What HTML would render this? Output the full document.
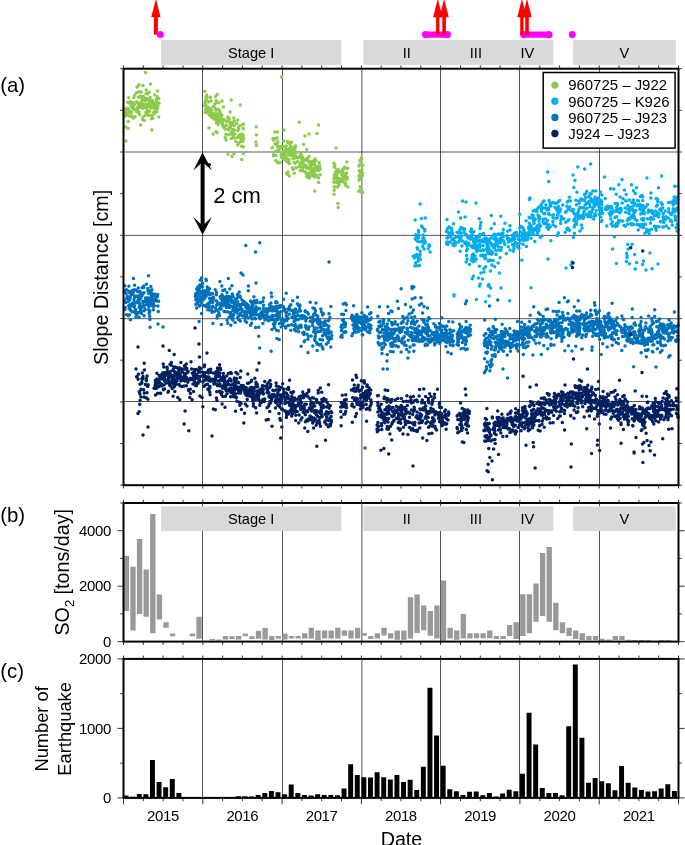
<!DOCTYPE html>
<html><head><meta charset="utf-8"><title>Figure</title>
<style>html,body{margin:0;padding:0;background:#fff}body{width:685px;height:845px;overflow:hidden;font-family:"Liberation Sans",sans-serif}svg{display:block;will-change:transform}text{font-family:"Liberation Sans",sans-serif;fill:#000}</style>
</head><body>
<svg width="685" height="845" viewBox="0 0 685 845">
<rect width="685" height="845" fill="#fff"/>
<path d="M202.5 68.7V485.2M282.5 68.7V485.2M361.9 68.7V485.2M440.5 68.7V485.2M519.5 68.7V485.2M599.5 68.7V485.2" stroke="#0c0c0c" stroke-width="0.7" fill="none"/>
<path d="M123.5 152H678.5M123.5 235.4H678.5M123.5 318.7H678.5M123.5 401.5H678.5" stroke="#0c0c0c" stroke-width="0.7" fill="none"/>
<path d="M128.7 97.7h.01M138.5 106.7h.01M141 105h.01M154.3 107.5h.01M146.9 106.9h.01M128 109.2h.01M142.7 108.3h.01M134.7 94.9h.01M139.8 103h.01M141.6 96.4h.01M151.4 118.8h.01M126.3 114.8h.01M149.5 102.8h.01M130.9 104.8h.01M138.9 111.9h.01M143.5 98.3h.01M140.1 96.2h.01M157.5 104.1h.01M128.2 121.5h.01M156.4 99.2h.01M128.5 110.9h.01M148.6 105.4h.01M154.7 94.8h.01M151.9 130h.01M156.7 112h.01M143.2 100.3h.01M149.4 105.6h.01M147.5 99.6h.01M144.5 104.2h.01M124.8 108.9h.01M140.7 125h.01M149 106h.01M139.2 91.8h.01M136.3 109.7h.01M132.8 116.7h.01M155.4 103.1h.01M146.5 105.7h.01M145.2 107.4h.01M138.9 104.7h.01M130.8 103.5h.01M155.1 103.8h.01M149.5 111.4h.01M129.4 115.9h.01M156 104.2h.01M147.7 105.5h.01M141.1 91.9h.01M136.4 111.4h.01M133.1 109.1h.01M143.3 96.2h.01M139.6 107.6h.01M149.7 101.2h.01M133.2 105.4h.01M158.8 98.4h.01M135.8 110.3h.01M159 103.1h.01M124.8 113.4h.01M147.4 93.9h.01M141.4 102.4h.01M145.3 115.6h.01M149.2 92.2h.01M156.4 100.3h.01M133.4 109h.01M125.6 109.9h.01M156.3 102.2h.01M153.7 112.4h.01M152.9 107.9h.01M130.7 102.3h.01M131.5 107.1h.01M147.2 110.4h.01M142.1 100.1h.01M148.8 99.5h.01M127.9 102.3h.01M153.8 104.4h.01M156.9 99.5h.01M128 128.4h.01M138.8 104.7h.01M137.7 107h.01M130.5 101.6h.01M150.4 106h.01M152.8 118.2h.01M136.4 101.8h.01M138.2 97.3h.01M127.5 113.6h.01M142.7 96.5h.01M131.3 111.9h.01M152.2 100.4h.01M125.6 113h.01M137.5 109.4h.01M146.1 93.6h.01M154.3 112.8h.01M157.4 108.2h.01M125.7 114.9h.01M141.2 96.9h.01M146.6 113.1h.01M129.1 110.3h.01M143.7 105.3h.01M126 108.8h.01M157.3 96.8h.01M153.8 105.5h.01M136.6 92.5h.01M139.8 103.9h.01M151.7 115.5h.01M133.2 107.7h.01M144.2 120.5h.01M157.8 105.7h.01M124.1 114.1h.01M137 108.3h.01M133.4 118.1h.01M157.3 96.7h.01M150.8 108.1h.01M139 113.7h.01M148.7 115.3h.01M139.5 114.7h.01M146.2 90h.01M156.2 109.8h.01M139.1 84.7h.01M150.7 104.5h.01M145.9 112.2h.01M151.1 104.9h.01M141.7 102.8h.01M157.5 91h.01M131.5 113.1h.01M150.1 97.6h.01M146.2 98.3h.01M143 116.9h.01M130.6 102.5h.01M146.8 108.2h.01M133.9 97.8h.01M130.9 112.5h.01M146.7 100.1h.01M154.3 111.8h.01M132.9 102.4h.01M147.3 104.3h.01M128.8 115.4h.01M131.2 116.6h.01M155.8 105.6h.01M157.5 104.7h.01M150.2 105.4h.01M134.3 104.4h.01M154.2 114.1h.01M137.6 103.3h.01M158.7 116.9h.01M125.5 115.8h.01M150.8 101.9h.01M130.1 103.3h.01M142.6 106.5h.01M127.9 108.6h.01M145.4 100.8h.01M142.5 119.4h.01M148.9 105.4h.01M153.7 103h.01M125.3 115.9h.01M135.1 116.7h.01M139.3 105.2h.01M149.8 102.4h.01M145.5 72.4h.01M126 141h.01M125.5 127h.01M150.5 84h.01M143 85.5h.01M137 87h.01M205.3 102.9h.01M216.9 118.7h.01M216.2 100.4h.01M242.3 140.9h.01M223 120.2h.01M225.2 129.3h.01M238.4 127.2h.01M241.7 146.2h.01M216.5 122.7h.01M208.1 107.3h.01M213.5 114.2h.01M211.5 112.8h.01M216.9 116.3h.01M218.1 124.6h.01M221.1 118h.01M237.4 137.4h.01M218.8 116h.01M222.2 119.3h.01M219.3 118.1h.01M216.9 101.9h.01M240.9 138.6h.01M206.8 108h.01M229.2 127.7h.01M218.4 123h.01M207.9 108.3h.01M232.7 124.2h.01M228.6 130h.01M242.7 141.4h.01M210 97.2h.01M210.5 97.5h.01M210.1 108.6h.01M221 118.8h.01M209.7 110.4h.01M205.7 101.3h.01M243.2 135.4h.01M225.9 134.2h.01M231.2 100h.01M226.4 125.3h.01M218.7 113.7h.01M220.6 113.8h.01M231.4 132.6h.01M230.1 112h.01M238.4 143h.01M211.6 116h.01M205.6 111.2h.01M224 119.4h.01M216.5 114.8h.01M224.5 126.6h.01M240.9 136.3h.01M206.6 97.6h.01M241.3 137.2h.01M233.8 118h.01M205.8 100.3h.01M219.7 111.1h.01M222.9 125.9h.01M205.2 102.6h.01M236.5 123.5h.01M218.5 122.5h.01M223.8 126.6h.01M241 139.2h.01M210.1 115.3h.01M206 105.2h.01M223.9 127.4h.01M231.4 125.2h.01M211.7 117.6h.01M239.1 143h.01M230.6 126.4h.01M243.3 147h.01M227.9 117h.01M209.3 114.1h.01M215.9 131.8h.01M209.3 114.9h.01M235.8 141.5h.01M214.6 116.9h.01M243.4 124.3h.01M239.3 135.1h.01M241.9 133.9h.01M209.7 110.4h.01M243.6 138.6h.01M205.2 112.5h.01M206.8 111.3h.01M205.9 97.1h.01M204.7 105.7h.01M205.3 104.1h.01M220.8 121.7h.01M218.5 113.3h.01M217.1 94.6h.01M237.6 144.9h.01M211 109.9h.01M234.3 138.1h.01M222.3 124.3h.01M216.5 120.7h.01M213.7 114.5h.01M208.3 108.8h.01M238.7 129.3h.01M238.2 136.8h.01M231.4 138.4h.01M233.1 136.8h.01M207.7 109h.01M215.5 113.9h.01M204.8 91.3h.01M217.8 119.9h.01M206.4 97.9h.01M231.8 124h.01M232.4 133.4h.01M243.2 128.5h.01M222.2 123.9h.01M229 122h.01M207.3 100.7h.01M206.9 112.2h.01M217.1 132.5h.01M216 109.9h.01M237.8 120.1h.01M215 103.9h.01M211.2 101.1h.01M231.1 125.5h.01M217.7 116.2h.01M214 118.9h.01M243.4 153.4h.01M216.3 118.4h.01M232.3 132.5h.01M241.7 159.4h.01M215.2 112.9h.01M222.8 124.7h.01M229 121.5h.01M233.5 134.8h.01M213.4 115.4h.01M228 117.9h.01M219.2 114.7h.01M218.8 102.7h.01M234.9 134h.01M240.9 141.3h.01M230.5 124.6h.01M229.2 118.8h.01M222.5 123.4h.01M208.5 112.9h.01M208.7 102h.01M234.5 129.9h.01M234.3 120.9h.01M242.4 124.7h.01M209.7 109.4h.01M228.9 134.8h.01M211.8 110.6h.01M228.5 129h.01M221.9 115.2h.01M206.7 95.3h.01M219.4 121.2h.01M213.1 106.7h.01M209 108h.01M243.3 139.9h.01M225.2 137.4h.01M207.8 107.9h.01M232.4 134.4h.01M222 122.1h.01M226.3 121.2h.01M226.1 140.1h.01M240.6 136.1h.01M205.5 109.5h.01M223.4 106.9h.01M232.3 129.6h.01M214.8 107.8h.01M215.5 96.4h.01M233.9 153.5h.01M219.2 119.6h.01M237.9 130.5h.01M218.2 109.2h.01M232.1 122.4h.01M211.8 115.8h.01M234.2 125.7h.01M239.3 125.9h.01M256.2 127h.01M256.3 135h.01M256 142h.01M256.4 145.5h.01M240.3 105h.01M222 101h.01M213 134h.01M209 128h.01M228 154h.01M232 156.5h.01M317.3 166.8h.01M314.4 177h.01M287.2 149h.01M296.3 168.1h.01M291.4 142.2h.01M279.8 146.5h.01M275.6 160.6h.01M302.8 161.8h.01M314.4 175.8h.01M283.1 151.2h.01M292.4 149.3h.01M316.8 169.9h.01M281.5 157.2h.01M287.9 141.9h.01M290.6 155.4h.01M304.9 160.5h.01M277.2 138.1h.01M294.2 153.7h.01M275.8 151.3h.01M299.5 166.8h.01M312.1 175.2h.01M310.4 166.4h.01M319.8 166.1h.01M275.5 138.2h.01M287.5 174.3h.01M314.4 173.4h.01M281.2 154.4h.01M302.4 169h.01M284.9 156.8h.01M287.6 142.2h.01M294.2 158.3h.01M293.6 148.2h.01M286.6 173.5h.01M277.6 131.9h.01M312.5 168.4h.01M310.6 172.2h.01M306.6 176.7h.01M300.1 155.8h.01M277.4 162.1h.01M284.2 146.5h.01M305.5 171.9h.01M281.7 154.8h.01M289.6 144h.01M283.8 141.1h.01M309.1 156.5h.01M309.1 167.3h.01M318.5 170.5h.01M286.8 149.7h.01M302.7 166.9h.01M297.7 161.5h.01M289.9 148h.01M293.6 156.7h.01M309.5 167.1h.01M300.3 163.3h.01M286.7 150.6h.01M273.5 139.9h.01M286.5 161.3h.01M278.9 150.8h.01M316.6 168.9h.01M293.1 149.7h.01M315.8 160.8h.01M283.5 158.7h.01M288.9 163.8h.01M289.1 162.7h.01M311.6 162.1h.01M320.2 174.8h.01M315.1 158.9h.01M288.8 151.6h.01M310.1 176.4h.01M306.1 166.1h.01M302 162.9h.01M310.8 163.2h.01M286.2 145.9h.01M278.2 163h.01M314.6 168.6h.01M300.2 163.9h.01M293.1 169.6h.01M284.8 151.3h.01M306.9 159.5h.01M272.9 138.5h.01M312.9 171.8h.01M303.7 144.4h.01M277.7 141.7h.01M281.5 146.5h.01M277.2 143.8h.01M281.2 155.6h.01M276.2 144.5h.01M302.3 156.9h.01M309.3 167.9h.01M314.7 191.1h.01M281.9 154.1h.01M286.5 150.2h.01M319.2 162.8h.01M314.9 165.2h.01M296.6 152.4h.01M274.9 143.7h.01M290.9 146.5h.01M292.1 154.6h.01M292.4 167.8h.01M313.1 164.5h.01M296.1 157.6h.01M295.5 155.9h.01M311.6 172h.01M302 160.1h.01M310.5 164.8h.01M308.8 161.7h.01M284.7 154.1h.01M294.4 152.1h.01M298.4 157.5h.01M313.1 171.4h.01M306.8 159h.01M308.4 175.1h.01M308.3 160.8h.01M288.6 151.8h.01M290.7 149.4h.01M314.5 170.2h.01M272 148.1h.01M306.1 173.5h.01M309 169h.01M309.1 178h.01M314.6 173.9h.01M300.2 170.4h.01M288.2 154.7h.01M278.2 150.8h.01M294.3 173.2h.01M306.7 149.4h.01M299.7 165.3h.01M286 149.1h.01M294.2 162.2h.01M309.8 163.6h.01M293.3 149.4h.01M302.7 171h.01M293.3 158.6h.01M280 148.2h.01M295.3 163.4h.01M306 167.8h.01M300.7 152.4h.01M312.5 173h.01M305.2 165.1h.01M295.2 146h.01M320.2 169.1h.01M289.6 163.5h.01M307.1 158.5h.01M286.9 158.1h.01M273.5 154.6h.01M273.6 155.8h.01M312.2 170.2h.01M289.7 154.2h.01M318.7 182.4h.01M313.4 170.5h.01M289.4 175.9h.01M308.2 173.5h.01M314.3 170.5h.01M292.5 167.8h.01M301.2 153.7h.01M301.8 158.4h.01M318.8 166.2h.01M273.5 138.9h.01M316.7 175.4h.01M284.7 159.8h.01M282.1 154.8h.01M286.6 151h.01M312.4 170.6h.01M311.9 168.4h.01M292.9 158.3h.01M310.7 162.1h.01M318.4 178.1h.01M314.9 175.5h.01M285.3 150.1h.01M274.8 131.9h.01M277.5 147.1h.01M289.2 159.8h.01M303.7 159.2h.01M313.4 169.1h.01M315.1 168.3h.01M294 153h.01M290.8 149.9h.01M287.5 141.4h.01M275.9 155.6h.01M296.3 167.4h.01M314.1 163.5h.01M303.5 164.5h.01M305.3 171.8h.01M310.6 165.8h.01M295.6 146h.01M313.1 160.9h.01M295 149.1h.01M272.5 147.2h.01M280.2 162.6h.01M315.4 176.3h.01M277.3 151.2h.01M280.6 147.3h.01M291.5 153.5h.01M274.7 139h.01M302 161.1h.01M299.2 122.3h.01M318.6 125h.01M317 133.5h.01M281.6 77h.01M305 136h.01M309 134h.01M284 130h.01M288 172h.01M334.5 176.3h.01M346.8 179.6h.01M338.9 185.4h.01M339.8 171.6h.01M334.1 194.3h.01M335 182h.01M345.4 184.9h.01M347.2 177.6h.01M345.6 183.2h.01M339.1 183.5h.01M342.6 181.4h.01M347.4 168.4h.01M345.4 175.3h.01M338.1 169.5h.01M334.2 186.7h.01M334.8 164.6h.01M337.1 177.9h.01M347.3 177.6h.01M339.6 178.6h.01M336.8 170h.01M341.8 170.9h.01M336.4 172.1h.01M344.6 173.9h.01M336.9 182.4h.01M334.5 174.2h.01M346.6 173h.01M342.5 175h.01M334.5 187.1h.01M340.5 181.4h.01M346.9 161.9h.01M342.6 171.4h.01M335.6 177h.01M337.9 180.7h.01M335.6 172h.01M342.7 168.8h.01M333.8 182.2h.01M343.2 176.4h.01M343.7 181.9h.01M344.8 177.9h.01M337.6 186.9h.01M334.1 166.7h.01M341.7 172.8h.01M347.8 187h.01M342 175h.01M337.7 170.2h.01M347.9 168.5h.01M344.7 167.1h.01M342.4 172.2h.01M333.8 163.2h.01M336.3 178.3h.01M334.5 175.9h.01M338.3 179.5h.01M334.8 167.2h.01M344 169h.01M344.6 177.8h.01M343.3 176.1h.01M336.6 175h.01M343.8 178.7h.01M337.6 177.9h.01M334.2 190.2h.01M342.7 175.4h.01M338 172.8h.01M336.3 171.8h.01M333.9 178.7h.01M343.9 175.1h.01M343.6 182.1h.01M341.7 179.6h.01M341.9 179.3h.01M338 203.5h.01M338.2 207.5h.01M336 148h.01M358.9 191.3h.01M361.3 157.7h.01M362.5 173.2h.01M362 170h.01M361.4 192.6h.01M359.4 165.3h.01M358.9 166h.01M360.2 174.8h.01M359 180.2h.01M359.7 160.4h.01M360.1 176.4h.01M360.1 186.7h.01M362.8 165.4h.01M360.1 171.9h.01M359.1 175.8h.01M361.4 159h.01M362.3 175.8h.01M360.4 164.1h.01M362.6 192.4h.01M360 190.2h.01M359.6 178.3h.01M359.3 170.7h.01" fill="none" stroke="#8ccb4c" stroke-width="3.50" stroke-linecap="round"/>
<path d="M415.6 239.1h.01M424.8 230.9h.01M417 239.9h.01M418 241.5h.01M417.2 247.8h.01M422.9 242h.01M418.5 238h.01M422.8 238.3h.01M418.4 230.4h.01M424 241.9h.01M421 241.7h.01M415.8 234.7h.01M416.1 237.4h.01M425.4 242h.01M418.7 235.2h.01M419.8 255.8h.01M416.9 236.4h.01M425.2 242.7h.01M417.6 248.9h.01M422.4 227.4h.01M423.3 240h.01M417.1 240.8h.01M422.7 246.3h.01M415.3 238.9h.01M424 249h.01M424.5 240.4h.01M424 243.4h.01M423 234.9h.01M424.6 242h.01M423.9 237.9h.01M420.3 259.4h.01M413.4 256.2h.01M414.4 258h.01M420.1 251.2h.01M418.3 261h.01M417.1 265.8h.01M418.5 258.7h.01M415.8 262.8h.01M420.1 254.6h.01M415.8 265.4h.01M418.2 256.6h.01M417.1 256.7h.01M420.1 259.3h.01M416.8 254.6h.01M414.5 255.7h.01M428.8 246.1h.01M429.3 245.5h.01M430.2 252h.01M429 244.7h.01M428.2 248.7h.01M429.7 245.9h.01M420.2 204h.01M415.2 220h.01M421.5 218.5h.01M425.3 218h.01M421.7 226h.01M424.6 229.5h.01M418.5 232h.01M414.8 266h.01M419.5 265.5h.01M452.1 239.5h.01M453.8 245.8h.01M471.3 246h.01M453.5 244.1h.01M507.5 239.2h.01M467.4 249.1h.01M519.7 214.2h.01M514.1 244.6h.01M451.5 231.1h.01M519.1 248.3h.01M516.8 232.8h.01M514.2 236.6h.01M493 235.2h.01M501.5 247.5h.01M509.8 239.5h.01M480 228.4h.01M488.8 247h.01M483.1 249.8h.01M507.6 237.7h.01M488.8 247.9h.01M480.4 240.2h.01M501.5 234.2h.01M478.6 236.4h.01M510.1 229.9h.01M461.9 245.9h.01M461.6 235.7h.01M487.1 244.9h.01M447 237.9h.01M500.8 216.3h.01M473.4 241.2h.01M501.6 240.8h.01M476.5 249.4h.01M459.1 240.8h.01M514.1 239.6h.01M483.4 250.5h.01M461 240.3h.01M470.5 236h.01M447.9 244.4h.01M472.5 233.6h.01M479.3 236.7h.01M500 234.4h.01M491.1 238.1h.01M453.5 238.7h.01M451.8 228.6h.01M516.3 232.6h.01M467 245.9h.01M474.3 242.6h.01M514.1 239.1h.01M502.9 233.1h.01M506.4 253.5h.01M495.7 237.2h.01M516.5 243.2h.01M487.7 243.5h.01M515.2 236.4h.01M496.1 254.5h.01M458.8 232.8h.01M455.3 244.9h.01M468.3 243.9h.01M507.7 231.2h.01M477 247.7h.01M479.9 247.2h.01M500.3 238.3h.01M479.2 218.8h.01M498.3 240.6h.01M476.7 250.9h.01M512.2 235.2h.01M480.4 225.6h.01M455.3 243.5h.01M446.8 241.9h.01M458.5 236.8h.01M502.9 240.4h.01M502.3 240.3h.01M452.8 244.3h.01M455.8 237.4h.01M449 227.1h.01M446.6 243.7h.01M488.4 239.4h.01M514 246.6h.01M488 248.7h.01M483.6 241.5h.01M501.9 233.5h.01M489.2 240.7h.01M495.6 245.5h.01M485.9 242.6h.01M491.1 228.5h.01M449 242.3h.01M461 227.4h.01M504.9 223.3h.01M452.8 234.6h.01M504.8 244.5h.01M483.3 241.4h.01M516.8 235.9h.01M473.2 259.2h.01M515.1 242.4h.01M464 230.3h.01M499.4 240.3h.01M477.5 246.1h.01M498.7 250.1h.01M508.6 238.4h.01M483.1 256.2h.01M486.2 238.6h.01M493.6 247.8h.01M460.9 237.1h.01M483.4 240.5h.01M468.7 243.3h.01M450.2 241.9h.01M473.8 231.8h.01M480.8 222.5h.01M495.8 239.5h.01M513.2 251.3h.01M500.9 250.2h.01M467.8 237.8h.01M474.4 246.4h.01M514.6 239.2h.01M460.7 232.8h.01M484.8 238h.01M506.8 235.8h.01M497.3 234.6h.01M447.3 228.7h.01M480.6 234.6h.01M491.4 215.6h.01M487.2 246.3h.01M483.1 245.4h.01M492.1 245.5h.01M472.6 246.7h.01M508.3 242.1h.01M471.4 228.9h.01M458.6 241.9h.01M494.9 244.6h.01M479.3 241.1h.01M498.7 234h.01M483.6 233.5h.01M512.5 238.2h.01M476.5 241.9h.01M476 237.5h.01M512.4 244.8h.01M508.2 246.8h.01M447 219.6h.01M449.8 227.4h.01M514.9 244h.01M487.4 250h.01M513.9 248.7h.01M514.3 233.3h.01M446.5 231.4h.01M496.1 241.2h.01M488.3 243.6h.01M511.8 240.1h.01M519.2 235.7h.01M478.2 250.3h.01M472.8 247.4h.01M503.3 229.4h.01M460.1 251.3h.01M463.9 232.6h.01M467.8 245.2h.01M485.2 240h.01M500 257.7h.01M470.5 231.6h.01M454.7 241.5h.01M479.9 245.7h.01M450 233.7h.01M486.1 238.1h.01M500.2 242.8h.01M510 250h.01M518 244.1h.01M491.8 243.9h.01M489.9 241.9h.01M453.5 223.7h.01M494.8 248.1h.01M508.4 241.9h.01M503.2 236.8h.01M490.5 252.6h.01M466.8 249.8h.01M509.9 225.8h.01M447.8 237.8h.01M481.5 241.8h.01M474 244.7h.01M464.6 229h.01M447.6 228.4h.01M450.3 236.8h.01M473.4 238.7h.01M458.7 236.2h.01M483.1 239.8h.01M462.5 241h.01M455.8 242.7h.01M487.6 242.1h.01M465.3 243.5h.01M466 241.8h.01M498.6 246.7h.01M485.5 254.9h.01M452.5 233h.01M477 238.4h.01M511.2 241.1h.01M517.5 246.9h.01M466 234.2h.01M500.5 239.1h.01M496.2 242.4h.01M476.4 240.2h.01M518.4 239.2h.01M521 232.1h.01M504.4 243.5h.01M494.2 238.9h.01M494.8 234.3h.01M447.2 230.9h.01M480.7 250.7h.01M459.8 229.8h.01M470.2 239.2h.01M448.6 233.1h.01M479.8 234.4h.01M502.4 235.8h.01M489.3 249.9h.01M490.2 259.9h.01M462.5 228.3h.01M496.7 238.9h.01M464.8 243.2h.01M487.6 251.8h.01M488.1 244.4h.01M468.8 244.8h.01M457 232.2h.01M491.8 251.4h.01M452.6 234.7h.01M475.3 239.8h.01M519.7 228h.01M503.6 240.9h.01M475.3 245h.01M471.4 236.8h.01M498 242.9h.01M500.1 239.2h.01M519.9 243.3h.01M460.6 218h.01M472.3 255.1h.01M488.3 242.9h.01M517.4 235.3h.01M494.4 223.8h.01M460.3 238.6h.01M466.8 235.4h.01M480.9 272.9h.01M485.8 258.6h.01M489.2 286.3h.01M476.3 299.4h.01M485.2 258.7h.01M471.9 257.8h.01M480.8 255.5h.01M484 272h.01M499.4 273h.01M467.1 259h.01M491.9 265.1h.01M482.7 255h.01M492.5 252.9h.01M491.4 254.3h.01M490.4 271.1h.01M479.5 286.1h.01M473.4 257.9h.01M493.1 260.5h.01M473.1 261.7h.01M466.6 255.5h.01M473.3 276.2h.01M474.9 255.7h.01M475.1 260.7h.01M494.7 266.7h.01M478.4 277.9h.01M471.3 260.2h.01M498.1 263.1h.01M485.6 266.7h.01M472.1 278.7h.01M490.8 260.3h.01M466.5 250.7h.01M495.9 250.4h.01M488.5 253.5h.01M483.9 268.4h.01M474.6 247.7h.01M476.3 258.9h.01M466.1 261.9h.01M496 254.4h.01M484.8 258.1h.01M480.2 284.1h.01M482.5 278.9h.01M476.6 251.5h.01M486.4 249.2h.01M479.4 244.4h.01M473.3 254.1h.01M488.3 261.1h.01M485.6 301.8h.01M469.5 264.4h.01M497.1 243.6h.01M488.8 284.6h.01M479.5 266.2h.01M471.9 246.9h.01M462.5 201h.01M466 202h.01M476 203h.01M489 296h.01M454 296h.01M458.5 212h.01M465 217h.01M557.1 218.1h.01M566.8 206.2h.01M533.2 211h.01M547.4 220.4h.01M540.7 226.1h.01M587 208.2h.01M575.9 216.8h.01M549 200.5h.01M548.4 229.3h.01M597.1 203.4h.01M557.1 210.2h.01M529.3 223.3h.01M595.4 215.8h.01M584.6 194.6h.01M583.3 217.4h.01M581.3 217.3h.01M587 208.4h.01M559.7 200.5h.01M544.1 222.7h.01M549.4 214.7h.01M531.1 238.2h.01M536.1 228h.01M538 215.3h.01M561.2 216.2h.01M570.5 200.9h.01M539 230.5h.01M555.9 203.5h.01M593.1 208.1h.01M529.4 199.6h.01M566.5 211.2h.01M529.1 217.6h.01M590.8 217.1h.01M526.1 220.8h.01M529.4 234h.01M579 209.5h.01M550.9 240.8h.01M566.9 229h.01M569.4 230.3h.01M590.4 212.3h.01M592.2 201.7h.01M583 199.7h.01M523.9 229.8h.01M541.4 209.1h.01M573.5 209.7h.01M585.7 197.6h.01M574.4 218.9h.01M537.1 225.9h.01M575.9 200.2h.01M542.8 208h.01M584 211.6h.01M550.7 204.6h.01M567.7 227.9h.01M558 208.7h.01M568.9 219.8h.01M594.7 200.3h.01M588.9 196.5h.01M544.1 223.7h.01M543 222.1h.01M539.7 217h.01M591.5 199.4h.01M595 214h.01M539.5 218.5h.01M533.1 215.6h.01M522.6 234.8h.01M523.2 238h.01M589.5 212.2h.01M579.2 203.3h.01M574.2 227.1h.01M548.5 209.8h.01M590.6 215.1h.01M543.6 213.6h.01M594.1 203.6h.01M536.5 228.4h.01M565.5 212.2h.01M594.6 206.2h.01M567.5 229.5h.01M573 211.6h.01M525.1 232.8h.01M560.8 220.3h.01M594.2 216.1h.01M538.7 218.2h.01M528 237.2h.01M532.9 218.3h.01M596.2 198.4h.01M547.6 172h.01M553.6 214.7h.01M590 193.7h.01M532 214.9h.01M586.7 203.1h.01M565.7 212h.01M571.1 210.4h.01M523.2 244.3h.01M576.3 221.4h.01M598.2 198.1h.01M525.7 236.5h.01M587.9 216.8h.01M539 221.3h.01M567.3 201.9h.01M583.2 207.7h.01M599 214.2h.01M546.9 227.3h.01M524.6 239h.01M534.7 230.1h.01M575 180.5h.01M545.7 208.2h.01M599 203.7h.01M590.2 197.9h.01M578.7 201h.01M528.9 226.5h.01M537.4 233.4h.01M596.9 204h.01M598.9 202.4h.01M594.5 203.2h.01M558.3 233.1h.01M526.4 246.5h.01M531.7 227.9h.01M576.6 214h.01M582.1 228.3h.01M594.5 203.8h.01M576.9 192.3h.01M565.2 232.2h.01M558.3 206.6h.01M581.4 216.1h.01M586 193.5h.01M583.2 218.4h.01M558 213.5h.01M573.8 220.5h.01M540.2 237.4h.01M533.7 234.4h.01M580.4 218.1h.01M545.8 205h.01M534.2 223.2h.01M545.9 223.7h.01M548.6 213.6h.01M561.7 218.3h.01M531.2 225.4h.01M544.7 213.4h.01M525.1 239.9h.01M555.6 226.4h.01M556.3 208.9h.01M578.7 215.2h.01M568.5 200.9h.01M584 216.7h.01M590.6 163.9h.01M591.1 194.1h.01M544 201h.01M546.2 223h.01M593.7 218.9h.01M552.8 215.1h.01M534.8 210.3h.01M586.7 191.3h.01M521.8 260.2h.01M541 205.4h.01M529.8 218.1h.01M587.4 215h.01M549.2 226h.01M572.7 209.4h.01M527.5 239.7h.01M578.2 218.8h.01M533.3 220.5h.01M533.2 231.4h.01M588.7 201.4h.01M521.5 236.2h.01M528.6 228.3h.01M576.4 204.8h.01M523.2 240.3h.01M559.9 211.8h.01M595.8 190.9h.01M544.8 213.8h.01M525.2 233.8h.01M576.6 224.3h.01M523 227.8h.01M542.1 236.1h.01M560.6 208.9h.01M581.3 207.8h.01M573.9 187.6h.01M548.6 224.8h.01M528.4 232.8h.01M568.3 209h.01M531.6 228.8h.01M582.8 216.3h.01M565.7 222.2h.01M592.8 191h.01M557.2 235.6h.01M581.4 224.9h.01M591.9 212.3h.01M596.9 200.2h.01M541.4 211.2h.01M560.6 223.6h.01M548.4 208.2h.01M524.4 232.5h.01M530 198h.01M553 202.5h.01M579.9 207.2h.01M598.9 206.7h.01M590.1 206.7h.01M542.9 202.1h.01M550.2 227.1h.01M529.1 228.5h.01M599.5 207.1h.01M594 205.8h.01M534.2 218.2h.01M534.8 228.8h.01M586.2 203.8h.01M598.1 201.9h.01M596 202.9h.01M574 213.7h.01M596.2 210.8h.01M575.3 221.5h.01M581.7 200.3h.01M534 223.3h.01M584.5 200.4h.01M599.5 209.7h.01M535.3 219.4h.01M543 219.2h.01M562.8 204.9h.01M589.5 204h.01M586.2 208.9h.01M521 226.3h.01M533.2 220.3h.01M521.3 239.7h.01M586.4 214.2h.01M577.6 215.3h.01M541.1 204.7h.01M596.1 200.7h.01M552.9 221.4h.01M595 197.3h.01M574.8 224.9h.01M546.9 209.9h.01M585.1 205h.01M557.6 215.2h.01M538.7 216h.01M573.3 237.5h.01M578.2 211.9h.01M583.2 214.3h.01M549.9 206.3h.01M533.9 222.2h.01M589.6 216h.01M594.4 205.9h.01M554.8 207.2h.01M533.1 234h.01M577.8 167h.01M538.8 207.2h.01M538.7 228.3h.01M549.9 202.8h.01M534.8 241.4h.01M569.8 206.9h.01M592.6 209.5h.01M545.1 218.7h.01M539.2 224.4h.01M574.4 233.2h.01M526.1 233.9h.01M568 206.8h.01M537.4 231h.01M531.1 287.8h.01M529.5 234.1h.01M554.8 218.2h.01M552.8 217.6h.01M550.9 205.9h.01M588.7 203.6h.01M569.6 197.2h.01M553 224.8h.01M563.8 218.8h.01M557.6 209.1h.01M595 199h.01M567.9 220.8h.01M579.9 230.9h.01M532 232.2h.01M557.8 202.3h.01M581 198.7h.01M554.8 203h.01M525.5 240h.01M536.8 211.8h.01M537.3 209.1h.01M529.7 229.9h.01M662.3 204.5h.01M665.3 219.5h.01M641.6 219.1h.01M611.5 206.6h.01M606.2 209.6h.01M606 207.6h.01M634.3 212.8h.01M671.7 202.3h.01M656.2 215.3h.01M642.6 200.4h.01M640.9 205.8h.01M641 209.9h.01M668.4 218h.01M671.7 214.2h.01M618.9 184.7h.01M624 225.3h.01M671.8 221.8h.01M661.2 210.9h.01M660.9 210.6h.01M643.2 220.2h.01M609.2 206.5h.01M629.6 210.8h.01M674.1 197.1h.01M627.4 220.6h.01M655.7 228.4h.01M666.4 218.1h.01M636.7 224.6h.01M666.3 226h.01M634.3 217.1h.01M643.9 208.8h.01M643.5 227.5h.01M668.8 228.2h.01M671 220.3h.01M678 186.3h.01M651.1 217.6h.01M612.6 226.1h.01M652.1 213.2h.01M601.7 201.3h.01M638.1 224.7h.01M673.2 208.7h.01M632.3 217.4h.01M663.9 222.5h.01M674.3 203.6h.01M634.9 203.8h.01M640.7 224.6h.01M657.8 199.3h.01M650.6 218.4h.01M639.6 205.4h.01M642.6 196.8h.01M606.7 225.9h.01M640 204.4h.01M617.6 204.9h.01M622.7 220.9h.01M633.6 215.8h.01M675.6 220.2h.01M610.3 215.6h.01M611.5 214h.01M640.4 196.6h.01M677.9 229.1h.01M657.2 226.6h.01M620.9 211h.01M617.5 211.6h.01M663 217.1h.01M651.4 229.3h.01M615.1 203.6h.01M626.1 194.4h.01M644.2 211.8h.01M608.8 208h.01M637.1 205.9h.01M637.5 204.9h.01M615.5 225h.01M631.9 202.4h.01M614.4 236.8h.01M650.5 223.2h.01M673.2 200.8h.01M631.9 209.1h.01M620.8 208.3h.01M674.1 200.8h.01M672.3 225.2h.01M631.6 184.7h.01M642.8 205.4h.01M636.6 187.7h.01M663.2 213.7h.01M642.8 227.4h.01M616.4 263.4h.01M627.7 224.2h.01M620.1 197.1h.01M673.2 205h.01M616.6 216.7h.01M642 195.6h.01M621.1 220.8h.01M663.5 226.9h.01M644 224.2h.01M677.4 197h.01M627.9 209.1h.01M616.6 207.6h.01M641.3 213.8h.01M675.9 199.2h.01M645.5 224.2h.01M656.2 198.6h.01M670.6 202.5h.01M665.2 211h.01M675.4 217.3h.01M623.1 198.8h.01M648.9 231.1h.01M638.3 230h.01M615.7 226.5h.01M670.7 202.4h.01M654.2 214.4h.01M610.8 218.9h.01M633.6 224.5h.01M650.9 219.7h.01M677.3 224.2h.01M607.2 206.3h.01M618.4 220.5h.01M651 193h.01M613.9 188.9h.01M650.8 197.9h.01M600.2 199.8h.01M645.8 206.9h.01M661.1 202.7h.01M646.7 229.4h.01M601.9 210.2h.01M676 227.5h.01M663.4 219.6h.01M648.6 210.1h.01M674.6 186.2h.01M649.1 211.2h.01M675.1 211.5h.01M659 214.3h.01M602 220.6h.01M658.5 187.7h.01M670.4 213.6h.01M633.3 206h.01M640.6 213.9h.01M630.8 223.6h.01M631.3 215.9h.01M640.4 226.5h.01M632.2 209.5h.01M629.4 200.1h.01M601.9 195.1h.01M647.4 218.7h.01M657 212.2h.01M677.8 200h.01M649.1 230h.01M656.4 206.2h.01M661.1 221.7h.01M654.3 215.6h.01M619.8 212.7h.01M660.3 221.4h.01M612.4 222.1h.01M656.2 230.3h.01M649.2 234.1h.01M617.1 226h.01M633.7 213.7h.01M601.4 200.4h.01M609.2 213.4h.01M629.8 219.4h.01M600.7 217.1h.01M655.5 211.1h.01M612.8 212.3h.01M625.7 200.9h.01M668.6 208.8h.01M616.2 194.2h.01M647.5 204.4h.01M674.8 198.1h.01M678.2 229.1h.01M634.2 216.6h.01M637 224.8h.01M643.8 225.3h.01M600.4 192h.01M659.8 209.8h.01M631.7 224.7h.01M651.7 210.5h.01M628.9 213.4h.01M658.4 217h.01M660.8 208.7h.01M621.2 209.2h.01M601.2 208h.01M640.5 207.3h.01M610.2 211.8h.01M602.6 213.2h.01M616.1 210.4h.01M617.2 203.3h.01M607.2 209.2h.01M674 211.9h.01M658.3 213.3h.01M630.6 207.2h.01M675.5 197.9h.01M668.7 212h.01M635.8 210.6h.01M642.7 207.1h.01M612.3 208.7h.01M614.9 217.6h.01M633.5 190.8h.01M635.1 219.5h.01M665.9 216.8h.01M657.3 204.9h.01M670.9 214.3h.01M625.1 208h.01M638.4 201.1h.01M644.2 213.8h.01M635.2 193.4h.01M611.6 213.2h.01M614.6 211.6h.01M617.4 224.4h.01M618.5 222.4h.01M649.9 218.6h.01M610.6 188.7h.01M601.4 221.6h.01M626.1 200.8h.01M634.7 203.2h.01M633.3 199.9h.01M629.3 218.2h.01M675.1 216h.01M637.5 200.4h.01M622.2 203.1h.01M601.5 213.2h.01M639.8 209.1h.01M633.3 210.6h.01M652.9 211.9h.01M624.4 190.1h.01M617.9 208.9h.01M659 226.8h.01M611.1 223.9h.01M643.7 218.4h.01M620.7 211.5h.01M654.4 226.3h.01M675.3 218.9h.01M670.4 220.8h.01M643.4 211.8h.01M677.1 230.9h.01M601.9 207.9h.01M632.3 223.7h.01M662.8 227.1h.01M616.5 223.4h.01M653.5 219h.01M677.8 210h.01M646.3 232.1h.01M644.9 233.2h.01M676.2 203.1h.01M657.7 201.5h.01M642.4 224.8h.01M604.5 177.1h.01M675.4 209.2h.01M636.9 220.4h.01M625.3 226.2h.01M609.6 208.1h.01M620.2 208.8h.01M675.5 197.9h.01M634.4 212.1h.01M625.7 212.3h.01M601.7 204.2h.01M674.4 202h.01M677.3 207.9h.01M672.9 211.5h.01M605.8 208.9h.01M605.7 209.6h.01M648 212.6h.01M605.2 198.5h.01M662.7 208.1h.01M601.5 202.8h.01M627.8 205.6h.01M628.2 218.8h.01M668.5 202.6h.01M584.6 169h.01M573 175h.01M548.7 181.6h.01M622 179.6h.01M647 178h.01M661.6 176h.01M571 265h.01M548 259h.01M612.5 249h.01M658 264h.01M646 270h.01M566 268h.01M572 262h.01M634.6 254.5h.01M635.3 269.1h.01M626.6 253.3h.01M627.1 256h.01M632.1 244.3h.01M650 253h.01M636.7 262.4h.01M643.4 261.1h.01M629.3 263.8h.01M642.5 264.6h.01M626.4 261.6h.01M627 257.4h.01M652.1 268.8h.01M628.2 249h.01M627.8 244.4h.01M454 294.7h.01M488.3 286h.01M490.7 288.3h.01M501 288h.01M509.6 300.8h.01" fill="none" stroke="#00aeef" stroke-width="3.50" stroke-linecap="round"/>
<path d="M156 299.4h.01M134.6 285.2h.01M126.5 314.7h.01M158.6 301.2h.01M153.4 306.5h.01M136.6 302.8h.01M124.3 308h.01M133.7 311.8h.01M146 299.5h.01M132.7 304.1h.01M148.5 275.8h.01M134.4 297.4h.01M141.7 293.4h.01M139.4 303.1h.01M154.5 305.8h.01M155.9 297.1h.01M148 291.2h.01M158.3 311.5h.01M136.5 312.2h.01M133.3 292.4h.01M135.9 313.7h.01M150 291.6h.01M133.4 278.6h.01M147.8 301.3h.01M136.6 296h.01M148.8 307h.01M134 300.1h.01M127.4 296.5h.01M148.8 300.2h.01M140.5 309.8h.01M156.6 300.9h.01M158 324.1h.01M139.6 299.4h.01M150.9 298.1h.01M145.4 298.1h.01M126.6 298.5h.01M143.8 305.4h.01M135.6 309.5h.01M138.3 288.1h.01M131.9 311.8h.01M144.2 310.6h.01M149 301.7h.01M125.2 307.4h.01M151.9 289.7h.01M137.9 300.6h.01M142.2 287.8h.01M143.7 287.5h.01M141.5 313.6h.01M130.2 296.7h.01M149.7 292.5h.01M132.2 293.5h.01M155.8 299.2h.01M155.6 300.8h.01M137.6 291.6h.01M143.5 286.3h.01M146.6 304.5h.01M128.3 301.6h.01M128.7 298.6h.01M153.1 302.5h.01M131.1 305.7h.01M148.9 298.5h.01M147.2 297.8h.01M140.7 294.3h.01M142.8 301.5h.01M139.4 306.7h.01M150.9 286.5h.01M131.3 291.3h.01M126.2 293.4h.01M140.4 307.6h.01M139.8 304.4h.01M124.4 301.2h.01M153 296.1h.01M145.2 309.6h.01M129.3 291.4h.01M151.1 300.7h.01M138.8 312.5h.01M129.7 293.1h.01M130.1 298.4h.01M148.7 310.1h.01M151.5 303h.01M150.1 290.7h.01M129.4 314.7h.01M141.2 307.8h.01M130.4 304.8h.01M150.1 304.5h.01M144.1 310.7h.01M134 307.1h.01M157.9 306.1h.01M125.8 302.6h.01M153.4 303.8h.01M132 294.5h.01M147.6 304.7h.01M133.9 303.4h.01M135.4 296.2h.01M148.8 293.6h.01M149.9 311.1h.01M149.9 319.4h.01M139.1 317.2h.01M124.7 309.5h.01M153.3 303.9h.01M140.8 298.3h.01M126.5 289.8h.01M144.1 307h.01M131.6 294.3h.01M124.8 291h.01M149.8 297.9h.01M152.1 301.1h.01M135.2 302.4h.01M139.9 295.6h.01M128.4 315.7h.01M144.1 315.7h.01M143.3 301.5h.01M153.4 309.8h.01M138.7 298.5h.01M149.1 313.6h.01M157.7 294.5h.01M150.3 300.1h.01M145.8 300.3h.01M132.3 303.3h.01M129.1 308.7h.01M152.7 294.9h.01M154.6 294h.01M149.5 312.2h.01M142.9 293.6h.01M134.4 305.8h.01M140.1 291.5h.01M135.6 290h.01M127 289.9h.01M134.2 289.7h.01M128.9 286.3h.01M141.9 306.7h.01M129.7 304.9h.01M134.8 295.9h.01M151.4 290.3h.01M143.1 303h.01M141.2 312.1h.01M130.4 319.7h.01M147.5 298.7h.01M144 292.8h.01M130.1 309.5h.01M138.2 299.5h.01M129.7 300h.01M151.5 305.2h.01M130.2 297.2h.01M139.7 295h.01M139.1 307.3h.01M132.1 290.6h.01M129.6 307.5h.01M130.8 310.6h.01M153.3 299.4h.01M147.4 302.4h.01M129.4 307.5h.01M124.8 285.7h.01M151.3 295h.01M151.7 293.4h.01M136.8 314.6h.01M135.8 316.9h.01M128.7 305.8h.01M157.4 296.6h.01M149.7 316.4h.01M142.1 295.6h.01M146.3 284.2h.01M137.1 296.5h.01M144.5 301.4h.01M147.8 288.5h.01M150.1 327.3h.01M234.6 311.8h.01M200.2 305.4h.01M331.8 335.5h.01M201.7 277.8h.01M230.9 296.9h.01M294.1 317.9h.01M300.4 311h.01M231.9 296.5h.01M236.2 308.3h.01M199.6 306h.01M308.8 326.9h.01M298.5 305.6h.01M222.1 305.7h.01M250.6 300.9h.01M250.8 316.6h.01M226.5 296.4h.01M259.4 317.1h.01M239.9 296h.01M231.9 285.7h.01M236.9 301.9h.01M281.5 320.7h.01M226.2 301.9h.01M310.2 317.6h.01M223.1 303.2h.01M256.3 314.5h.01M279.2 313.4h.01M196.7 289.1h.01M215.2 289.7h.01M315.6 332.9h.01M274.5 310.7h.01M271.7 296.7h.01M303.8 334.6h.01M318.4 324.2h.01M253.2 311.9h.01M295.1 317.9h.01M250.2 308.3h.01M207.4 289.9h.01M261 312.8h.01M242.5 316.1h.01M297.6 312.2h.01M324.2 323.9h.01M201.4 301.3h.01M222.3 296.6h.01M265.7 308.7h.01M202.9 296.8h.01M245.6 305.5h.01M305.1 310.7h.01M208.9 292.2h.01M284.7 321h.01M276.4 306.6h.01M237.2 306h.01M277.7 306.5h.01M313.7 332h.01M216.4 300.8h.01M274.5 307.1h.01M320.3 323.6h.01M265.7 311.7h.01M237.9 317.1h.01M244.6 314.4h.01M229.8 312.8h.01M252.8 303.1h.01M300.2 327h.01M212.9 300.4h.01M232.1 306.6h.01M234.2 303.7h.01M331.2 332.2h.01M280.2 305.5h.01M259.4 309h.01M316.9 328.3h.01M269.2 307.9h.01M294 316h.01M327.7 338.2h.01M199.1 299.4h.01M196.7 298.6h.01M274.9 323.7h.01M237 313h.01M274.9 323.4h.01M276.9 319.2h.01M209 305.6h.01M314.2 330h.01M274.5 327.8h.01M204.3 295h.01M230.8 316.1h.01M221.8 286.1h.01M265.8 318.8h.01M206.1 306.8h.01M233 315.5h.01M285.7 328h.01M271.6 306.7h.01M197.9 287.1h.01M248.4 307.3h.01M250.5 325.2h.01M281.1 327h.01M315.5 335.8h.01M253.7 314.4h.01M254.7 308.9h.01M301.2 327.2h.01M258.8 327.2h.01M233.1 296.8h.01M226.4 307.5h.01M240.4 313.8h.01M232.2 319.1h.01M294.3 310.2h.01M202 301.2h.01M242.2 311.4h.01M206.6 291.3h.01M239.1 315.7h.01M232.3 294h.01M305.8 321h.01M270.7 310.1h.01M321.9 329.4h.01M204.3 296.4h.01M247.3 312.8h.01M214.4 311.5h.01M318.1 331.4h.01M297.7 315.4h.01M238 297.1h.01M244.7 316.2h.01M311.2 335.9h.01M254.8 318.1h.01M247.7 312.6h.01M223.1 296.5h.01M224.7 298.9h.01M319.9 339.5h.01M325.4 320.9h.01M212.8 306.3h.01M260.6 316.2h.01M315 312.9h.01M240.3 321.1h.01M250.5 311.7h.01M278.3 330.7h.01M221 303h.01M231 299.1h.01M230.8 325.3h.01M210.4 302.5h.01M286.4 312.6h.01M297.6 311.9h.01M201.8 298.3h.01M270.3 308.1h.01M300 325.2h.01M263.3 308.6h.01M315.9 319.9h.01M279.7 314.6h.01M276.9 315.9h.01M233.6 314.9h.01M315.3 328.1h.01M322.5 335.7h.01M227.1 320.3h.01M222 294.8h.01M322.3 347h.01M203 295.1h.01M295.1 312.6h.01M207 293.8h.01M331.5 338.4h.01M200.6 292.9h.01M319.4 323.4h.01M279.2 315.4h.01M199.8 285.1h.01M294.2 311.5h.01M314.5 308.4h.01M247.1 305.4h.01M203.9 305.6h.01M199.2 299.2h.01M295.8 330.9h.01M329.5 338.6h.01M265.6 316.7h.01M210.4 301h.01M255.6 309.1h.01M328.1 342.5h.01M276.9 338.6h.01M330.8 346.9h.01M246.5 322.2h.01M277.8 318.5h.01M319.1 320.9h.01M219.5 315.5h.01M312.9 308h.01M295.6 327h.01M326.2 329.9h.01M292.7 300.7h.01M249.9 310.4h.01M235.6 298.9h.01M282.7 325.6h.01M213.7 297.9h.01M278.1 316.7h.01M221.8 305.9h.01M267.5 317h.01M277.5 317.9h.01M240.3 304.6h.01M226.4 296.4h.01M269.6 304.6h.01M287.1 316.9h.01M329 313.8h.01M202.6 293.1h.01M204.6 290.7h.01M196.7 297h.01M251.4 301.8h.01M245.9 307.8h.01M210.1 294.5h.01M224.8 289.8h.01M276.5 330.2h.01M244 301.5h.01M255.6 327.5h.01M288.7 310.1h.01M202.6 282.9h.01M212 310.7h.01M253.9 296.7h.01M283.6 299.3h.01M200.2 280.2h.01M294.5 312.8h.01M241.8 308.9h.01M306.4 328.8h.01M289.5 306.6h.01M328.8 337.1h.01M274.4 321h.01M293.6 311.8h.01M196.7 307.9h.01M218.2 303.2h.01M317.1 350.4h.01M239.2 309.5h.01M202 291.6h.01M225.1 300.2h.01M330.9 306.5h.01M229.4 307.6h.01M264.9 319.9h.01M201.6 313.4h.01M283.5 307h.01M243.1 304.5h.01M240.3 297.3h.01M201 286.8h.01M296.1 319.9h.01M248.1 312.5h.01M237.6 304h.01M230.5 305.9h.01M237.5 294.6h.01M283.1 306.6h.01M221.3 297.5h.01M307.9 339.2h.01M290 309.3h.01M285.6 326.8h.01M236.7 298.4h.01M269.6 310.1h.01M222.5 301.8h.01M274.4 310.3h.01M272.6 316.4h.01M247.4 308.4h.01M273.1 310.7h.01M222.5 299.5h.01M238 310.8h.01M245.1 320.9h.01M277.1 313.4h.01M324.1 329.8h.01M240.5 313.6h.01M328.5 333.6h.01M225.3 311.8h.01M247.4 311.4h.01M265.3 315.6h.01M316.7 342.7h.01M219.9 281.5h.01M258.2 314.7h.01M225.5 298.2h.01M235.1 322.4h.01M237.8 301.7h.01M286.8 320.5h.01M285 309.3h.01M198.3 291.7h.01M299.9 305h.01M327.2 332h.01M200.9 297.5h.01M261.2 315.9h.01M234.3 306.7h.01M229.8 288.9h.01M270.9 302.9h.01M323.4 322.4h.01M326.6 325.1h.01M281.1 305.8h.01M290.8 304.8h.01M294.9 312.8h.01M262.9 301.4h.01M320.8 309h.01M252 307.1h.01M227.8 302h.01M298.3 319.4h.01M227.3 298.7h.01M227.6 305.8h.01M293.9 325.4h.01M280.6 311.8h.01M199.5 295.9h.01M219.5 308.5h.01M197.6 303h.01M316.7 319.9h.01M274.2 309.6h.01M263.1 313.9h.01M279.4 323.6h.01M235.2 302.2h.01M323 349.1h.01M252 303.2h.01M201.7 299.1h.01M246.7 315.5h.01M236.7 303.2h.01M290.7 330.2h.01M298.7 331.7h.01M268.3 310.1h.01M316.7 315.5h.01M308.4 336.3h.01M321.4 311.8h.01M221.3 324.6h.01M277.7 319.5h.01M282 323.1h.01M283.1 323.6h.01M220.3 309.2h.01M284.9 309.8h.01M232.8 318.3h.01M199.9 292.6h.01M225.5 304.6h.01M322.6 339.9h.01M198.3 301.6h.01M304 332.2h.01M259.7 302.4h.01M196.1 304.1h.01M195.4 296.8h.01M291.3 310.2h.01M277.1 310.9h.01M301.1 346.2h.01M202.3 287h.01M322.1 328.7h.01M320.8 344.3h.01M228.6 304.4h.01M262.9 323.6h.01M315.1 337h.01M198.7 291.3h.01M266.7 309.3h.01M293.4 313.9h.01M297.5 297.3h.01M325.1 321.8h.01M211.4 298.6h.01M277.3 308.3h.01M266.6 310.2h.01M270.5 319.8h.01M195.5 294h.01M227.5 311.7h.01M211.9 307.8h.01M317.8 318.1h.01M212.5 293.6h.01M256.1 311.6h.01M284.9 310.9h.01M272 329.4h.01M317.6 344.1h.01M263.5 297.9h.01M249.3 308.7h.01M212.9 323.6h.01M209.6 298.3h.01M274.9 323.2h.01M320.2 321.6h.01M312.9 319.1h.01M226.9 292.6h.01M265.5 311.4h.01M312.5 322.5h.01M277.6 312.8h.01M263.5 305.3h.01M195.8 295.5h.01M308.4 327.9h.01M242.4 311.1h.01M328.1 328.7h.01M298.1 328.5h.01M313.7 314.5h.01M239.8 305.6h.01M238.4 319.5h.01M254.8 311.8h.01M244.7 312.3h.01M258.7 336.3h.01M326.5 332.4h.01M228.9 298.6h.01M305.6 325.4h.01M327.5 337.9h.01M201.1 298.5h.01M237.9 295.5h.01M217.3 315.8h.01M224.9 301.2h.01M246.7 304.3h.01M198.3 292.9h.01M199.4 287.9h.01M299.8 309.7h.01M202.8 291.9h.01M230.1 313.2h.01M231.5 302.3h.01M252.2 319h.01M301.8 318.8h.01M213.1 296.9h.01M312.8 318.4h.01M314.6 339.6h.01M209.5 288.7h.01M210 293.7h.01M277.8 312.2h.01M197 295.8h.01M206 279.3h.01M198.2 287h.01M273.4 324h.01M300.5 316.3h.01M297.5 303.8h.01M229.1 317.3h.01M260.1 318.8h.01M208.8 306.8h.01M199.4 290.7h.01M325.6 335.1h.01M302.7 332.7h.01M199.1 321.4h.01M223.8 303.6h.01M256.7 300.2h.01M196.2 294.8h.01M302.4 315.4h.01M248.3 290.7h.01M228.6 304.9h.01M274.7 320.2h.01M291.9 317.3h.01M248.2 318h.01M270.9 316.9h.01M328.9 332.3h.01M304.2 341.7h.01M206.1 296.2h.01M323.4 313.7h.01M195.8 300.1h.01M295.6 309.2h.01M269.6 307.8h.01M260.5 314.5h.01M299.7 306.2h.01M288.6 325.5h.01M207.8 309.8h.01M279.2 339.6h.01M259.9 314.9h.01M301 325.3h.01M232.3 302h.01M220.1 305.7h.01M197.9 303.4h.01M232.7 300.8h.01M316.2 332.3h.01M267.7 311.3h.01M271.1 351.2h.01M275.3 320.3h.01M265.8 309.2h.01M295.9 316.3h.01M312.8 346.1h.01M272.8 319.4h.01M225.5 302.9h.01M304.4 316.3h.01M257.5 308.4h.01M327.2 337.3h.01M317.2 344.3h.01M248.4 285.9h.01M227.2 302.7h.01M216.5 292.3h.01M210 298.5h.01M281.2 320.3h.01M272.4 315.6h.01M197.5 287.8h.01M271.3 292.9h.01M286.2 316h.01M204 299.1h.01M276.1 301.4h.01M248.2 305.3h.01M267.6 312h.01M328.7 330.2h.01M216.3 294.7h.01M286 320.7h.01M312.6 325.5h.01M223.1 304.9h.01M294.1 321.4h.01M319.8 331.2h.01M246.1 303.2h.01M232.8 309.8h.01M251.8 313.9h.01M324.1 325.5h.01M301.4 317.9h.01M252.9 305.4h.01M212 312.3h.01M242.4 303.7h.01M275.6 302.4h.01M228.3 278.5h.01M245 318.2h.01M208.8 303.1h.01M235.5 310h.01M286.1 312.9h.01M268.5 320.7h.01M248.6 311.2h.01M306 317.6h.01M310.2 321.2h.01M244.8 311.6h.01M295.5 309.1h.01M288.3 308.7h.01M243.5 304.4h.01M329.1 313.7h.01M294.3 329.6h.01M284.3 310.6h.01M231.3 302.1h.01M251.8 309.7h.01M270.1 317h.01M253.7 313.4h.01M319.4 345h.01M197.4 292.5h.01M317.7 316.5h.01M256.5 302.7h.01M265 317.5h.01M323.7 322.5h.01M305.1 317.6h.01M252 305.8h.01M242 300.1h.01M329.2 339.8h.01M198 293.6h.01M209.3 309.9h.01M319.5 320.3h.01M320.5 331.3h.01M206.4 305.8h.01M257.2 308.9h.01M228.4 296.2h.01M289.3 314.3h.01M232.6 295h.01M299.5 309.2h.01M295.3 324.5h.01M240.5 307.1h.01M328.9 320.1h.01M277.1 302.8h.01M308.3 314.1h.01M272 310.9h.01M220.8 298.5h.01M275.5 321.3h.01M314.3 328.2h.01M213.6 298.3h.01M232.8 320h.01M307 334.3h.01M279.6 316.8h.01M255.7 302.9h.01M276.9 314.5h.01M217.1 318h.01M221.1 308.9h.01M220.2 296.7h.01M259.4 308.5h.01M222.4 301.4h.01M329.9 317.5h.01M208.5 294.5h.01M256.1 306.9h.01M196.3 293.4h.01M216.6 305.1h.01M328.7 331.6h.01M288 318.4h.01M201.4 302.6h.01M201.9 285.4h.01M196.1 304.4h.01M239.2 292.1h.01M326.3 344.2h.01M254.2 300.7h.01M262 313.8h.01M217 310.3h.01M307.5 312.6h.01M314.9 340.6h.01M206.3 280.5h.01M218.8 312.7h.01M300 316h.01M309.1 326.8h.01M207.5 289.5h.01M199 288.2h.01M304.6 317.9h.01M313.4 320.9h.01M201.7 299h.01M316 303h.01M313 316.4h.01M274.2 326.8h.01M232.9 310.5h.01M204.8 293.6h.01M255.7 310.3h.01M326.7 324.9h.01M255.5 318.8h.01M305.2 311.8h.01M248.4 308h.01M308.5 329.2h.01M322.6 315.1h.01M199.8 296.6h.01M205.2 296.1h.01M297.5 327h.01M286.2 293.3h.01M251 312.2h.01M212.8 302.3h.01M324 332.7h.01M328.9 326.3h.01M282.8 318.7h.01M207 304.4h.01M274.5 315.7h.01M260.4 302.7h.01M310.2 302.3h.01M229.7 300.3h.01M328.5 320.8h.01M232.9 315h.01M215.5 308.1h.01M207.2 293.9h.01M217.6 302.7h.01M291.6 324.7h.01M227.7 323.2h.01M249.5 309.6h.01M223.7 305.3h.01M228.2 299.3h.01M320.2 327.3h.01M298.6 304.9h.01M267 315.1h.01M237.8 303.7h.01M288.2 325.3h.01M317.3 322.6h.01M207.3 287h.01M306.7 318.2h.01M270.1 308.3h.01M273.6 309h.01M198.6 299.2h.01M263.2 316.6h.01M321 326.1h.01M198.4 294.8h.01M315.4 310.7h.01M236.3 306.9h.01M305.7 327.1h.01M222.9 302.4h.01M231.2 313.7h.01M286.6 319.2h.01M224.1 311.5h.01M251.6 323.3h.01M250.7 314.5h.01M205.4 297h.01M262.5 311.3h.01M279.7 307.5h.01M252.5 314.9h.01M304.7 340.8h.01M222.8 290.5h.01M204.8 297.4h.01M279.6 306.3h.01M230.3 312.6h.01M245.8 245.4h.01M259.7 242.8h.01M255.5 252h.01M329 262h.01M308 352.5h.01M259.6 348h.01M241 273h.01M243 275h.01M256 283h.01M163 327h.01M345.6 332.3h.01M342.1 337.2h.01M346.4 304.7h.01M345 331.8h.01M342.4 320.1h.01M345.4 324.9h.01M343.6 314.5h.01M341.4 330.6h.01M342 335h.01M343.8 321.7h.01M343.3 319.6h.01M341.5 325.2h.01M345.5 322.9h.01M342.1 328.5h.01M341.1 327.1h.01M344.1 332.3h.01M346 331.9h.01M345.3 303.2h.01M343.2 304h.01M343.2 324.7h.01M346 310.6h.01M341.7 314.2h.01M340.8 336.7h.01M345 326.7h.01M371 312.8h.01M364.4 316.6h.01M352.8 320.8h.01M369.7 332.7h.01M355.9 332.3h.01M370.9 328.6h.01M357.3 328.3h.01M353.6 305.7h.01M357.6 331.7h.01M361.9 312.7h.01M355.2 322.6h.01M354.4 330.4h.01M352.9 320.8h.01M365.8 330.1h.01M352.8 333.5h.01M361.1 323.6h.01M362.2 334.5h.01M355.6 327.7h.01M366.1 320.9h.01M357.9 321.3h.01M362.7 335h.01M355.4 327.2h.01M364.4 315.4h.01M354.6 325.3h.01M354.8 322.7h.01M356.8 320.3h.01M364.1 319.3h.01M370 330h.01M356.5 322.6h.01M368.5 325.1h.01M356.3 325.1h.01M371.3 317.9h.01M359.2 327.9h.01M364.9 321.5h.01M357.3 326.2h.01M364.6 325.4h.01M369.7 325.2h.01M360.8 322.2h.01M352.9 324.9h.01M360.2 317.2h.01M362.8 327.3h.01M367.9 332h.01M357.3 320.6h.01M355.8 316.3h.01M363.2 324.9h.01M361.7 317.5h.01M351.9 335.8h.01M367.5 318.8h.01M353.8 317.4h.01M365.9 322.3h.01M370.2 319.8h.01M354.6 325.8h.01M360.6 322.7h.01M354.5 329.5h.01M368.7 327.3h.01M366.8 317.1h.01M353.6 318.3h.01M364.8 328.8h.01M361.3 319.9h.01M356.7 318h.01M362.7 321.8h.01M359.1 330.9h.01M351.8 318.7h.01M356.8 314.5h.01M351.5 317.1h.01M365.3 326.6h.01M365.8 327.9h.01M359.8 317.2h.01M356 320.2h.01M362.6 334.7h.01M358.3 318.7h.01M368.7 320.2h.01M368.6 325.2h.01M356 323.6h.01M361.9 330.3h.01M367.6 306.9h.01M365.1 318.3h.01M359.6 322.5h.01M369.5 314h.01M370.9 312.8h.01M370.9 325.5h.01M352 318.2h.01M366.8 321.3h.01M352.1 315.3h.01M358.2 322.8h.01M353.9 328.4h.01M368.9 324.3h.01M363.7 321.9h.01M367.2 319.9h.01M353.6 318h.01M360 322.5h.01M358.6 317.1h.01M401.2 323.1h.01M414.6 337.7h.01M402.4 338.4h.01M391.6 322.5h.01M394.5 339.5h.01M388.9 335h.01M378.9 326.3h.01M406.1 345.5h.01M387.3 334.4h.01M401.1 352h.01M391.9 329.5h.01M390.9 345.9h.01M403.9 327.3h.01M385.4 326.4h.01M398.4 338.2h.01M384.4 339.6h.01M388.8 320.2h.01M386 337.4h.01M386.4 333.8h.01M414.8 332.5h.01M413.9 351.3h.01M387.3 323.9h.01M383.5 319.4h.01M410.9 337h.01M378.8 337.9h.01M382.3 329.6h.01M401.5 329.5h.01M387.8 336.1h.01M399.8 332.6h.01M388.6 313.5h.01M377.6 329.3h.01M411.5 333.8h.01M379.6 337.2h.01M411.9 312.7h.01M398.7 329.6h.01M407.9 358h.01M413.6 336.2h.01M397.4 301.2h.01M392.4 342.5h.01M410.7 307.1h.01M397.6 335.7h.01M397.7 324.8h.01M390.8 335.9h.01M415.4 322.7h.01M404.2 336.6h.01M382.3 347.4h.01M387.5 340.5h.01M410.6 327.2h.01M379.7 326.4h.01M401.3 323.2h.01M412.2 328h.01M398.4 346.7h.01M412.6 340.6h.01M396.1 338.2h.01M383.4 323.4h.01M392.1 311.4h.01M413.7 339.4h.01M384.5 333.1h.01M404.3 318.4h.01M401.3 328h.01M398.6 340.5h.01M398.5 337.5h.01M391.1 330.5h.01M387.3 368.9h.01M395.1 321.8h.01M410.3 336h.01M381.8 326.1h.01M392.9 345.2h.01M413.7 328.4h.01M398.2 338.9h.01M390.9 311h.01M404.7 342.1h.01M408 331.4h.01M390.6 343.6h.01M405.3 332.4h.01M385.3 344.5h.01M379.3 326.8h.01M378.9 321.9h.01M412.2 327.9h.01M398.9 328h.01M407.8 332.5h.01M397.3 335.9h.01M402.8 316.6h.01M388.7 338.7h.01M409.1 313.9h.01M393.9 333.2h.01M391.4 333.1h.01M402.1 342.9h.01M387.9 329.3h.01M406.7 349.5h.01M380 322.3h.01M413 339.2h.01M409 352.1h.01M395.8 346h.01M383.9 337.1h.01M392 336.6h.01M393.2 338.4h.01M402 330.1h.01M378.4 336h.01M412.5 338.4h.01M406.8 323.7h.01M379.6 345h.01M413.2 323h.01M401.4 331.6h.01M396.3 345.7h.01M395.3 341.2h.01M395.3 328.9h.01M378.8 344.1h.01M389.3 329h.01M386.7 327.3h.01M381.9 349.3h.01M383.6 321.3h.01M409.3 335.6h.01M382 353.4h.01M380.1 321.3h.01M414.6 340.2h.01M404.5 345.1h.01M383.5 347.3h.01M411.4 323.6h.01M413.5 310h.01M377.4 330.2h.01M393.2 344.4h.01M378.1 342.6h.01M402.1 338.9h.01M403 322.2h.01M407.2 316.9h.01M384.5 337.1h.01M401.3 341.2h.01M401.5 341.1h.01M380.9 325.8h.01M388.3 333h.01M415 330.2h.01M411.9 337.9h.01M390.5 351.4h.01M386.4 330.2h.01M396.2 330.2h.01M411.6 336.8h.01M411.4 332.6h.01M389.5 336.5h.01M382.7 336h.01M394.7 323.8h.01M414.7 316.8h.01M387.9 328.5h.01M408.3 340.2h.01M398.1 346.8h.01M413.1 320.4h.01M397.2 330h.01M412.3 340.4h.01M385.8 339.7h.01M410 346.9h.01M379.3 332.3h.01M377.8 316.2h.01M411.2 336.9h.01M411.3 317.3h.01M414.6 324.6h.01M381.7 343.8h.01M407.2 329h.01M393.2 351.7h.01M384.2 329.8h.01M407 333.7h.01M387.3 354.6h.01M387.9 339.9h.01M403 321.3h.01M394.5 331.9h.01M393.5 329.4h.01M392.3 346.5h.01M407.4 328.2h.01M413.2 345.1h.01M383.9 342.7h.01M386.9 331.9h.01M390 338.7h.01M403.4 338h.01M393.3 334h.01M381.1 332.3h.01M385.1 336.6h.01M387.9 327.8h.01M411.8 322h.01M392.2 325h.01M407.9 320.7h.01M414.1 344.9h.01M427.4 339.1h.01M453.2 345.4h.01M449.7 341.9h.01M441.3 334.5h.01M422.2 339.7h.01M433.8 323.8h.01M440 339.2h.01M433.2 334.4h.01M428.1 341h.01M432.2 338.5h.01M452.2 331.2h.01M417.9 338h.01M446.4 340.9h.01M440.3 341.9h.01M436 343.1h.01M425.1 345.4h.01M427.5 334.7h.01M450.2 345h.01M440.4 337.1h.01M425.9 333.3h.01M437.9 338.9h.01M448.7 321.4h.01M420.3 334.4h.01M445.5 341h.01M434.7 343.1h.01M426.8 328.2h.01M445.4 341.8h.01M424.1 320.2h.01M428.5 330.8h.01M434.6 337.3h.01M446.9 336.4h.01M419.5 331.1h.01M442.9 340.2h.01M451.2 335.5h.01M452.8 342.1h.01M444.2 338.6h.01M416.1 337.3h.01M439.8 336.6h.01M438.9 327.6h.01M417.1 321.2h.01M429.8 342.2h.01M427.7 331.9h.01M443.9 335.2h.01M447.3 337.6h.01M417.5 336.6h.01M449.7 333.6h.01M447.2 341.6h.01M443.7 333.5h.01M445.4 337h.01M428.5 327.5h.01M451.9 335.4h.01M453.7 330.8h.01M430.1 330.6h.01M443.6 336.1h.01M444.3 335.3h.01M430 335.9h.01M423.9 322.3h.01M422.3 330.7h.01M430.8 341.8h.01M421.5 334.6h.01M447.6 338.3h.01M452 337.4h.01M418.9 341.4h.01M424.4 338h.01M432.3 332.4h.01M422.1 319.6h.01M439.8 343.6h.01M419 325.9h.01M418.3 333.8h.01M436.2 339.7h.01M441.7 317.8h.01M417.6 340.4h.01M422.7 336.9h.01M453.4 341.1h.01M441.3 340h.01M424.4 330.3h.01M432.1 333.4h.01M447.1 342.6h.01M425.7 324.5h.01M437.8 340.9h.01M447.8 352.3h.01M445.7 332.8h.01M450.1 337.4h.01M418.9 333.1h.01M420.2 340.1h.01M421.2 340.9h.01M427.3 330.3h.01M422.8 327.7h.01M427.7 326.2h.01M452.8 322.1h.01M421.3 339.7h.01M436.2 337h.01M435.6 325.7h.01M427.4 321h.01M440.4 330h.01M445.9 332.5h.01M423.5 339.8h.01M419.2 334.7h.01M448.8 339.4h.01M416.9 331h.01M416.6 340.7h.01M437.8 333.4h.01M435.5 334.9h.01M436.4 332.1h.01M446.4 330.4h.01M439.4 323.6h.01M437.9 338.2h.01M451.7 331.3h.01M418.4 330.6h.01M448.8 333.8h.01M449.9 333.7h.01M452.5 335.3h.01M420.1 340.7h.01M449.8 329.8h.01M427.6 331.9h.01M424.4 339.9h.01M451.2 353.7h.01M438.3 336.2h.01M427.3 324.4h.01M437 331.1h.01M442.4 326.3h.01M422.5 337.8h.01M429.6 318.7h.01M436.9 331.5h.01M427.6 344.9h.01M418.8 334.2h.01M441.7 332.6h.01M445.9 346.5h.01M422.9 329.6h.01M445.2 327.7h.01M450.5 330.5h.01M441.6 330h.01M440.7 325h.01M436.7 328.1h.01M452.9 345.8h.01M438.1 335.1h.01M422.6 313h.01M428.7 317.7h.01M452 340.4h.01M417 335.4h.01M443.8 326.5h.01M434.6 345h.01M422 331.6h.01M416.7 328.2h.01M434.6 345.1h.01M434.5 332.6h.01M427.7 335.6h.01M435.5 326.9h.01M438.8 334.8h.01M439.2 336.2h.01M423.9 331.3h.01M436.4 337.6h.01M446.2 334.8h.01M432.3 340.3h.01M450.6 338.6h.01M422.7 337.7h.01M421 331.2h.01M417.5 333.1h.01M425.5 328.3h.01M441.8 336.6h.01M426.4 329.8h.01M436.9 333.2h.01M417.1 331.8h.01M452.2 336.1h.01M425.8 343.9h.01M441.2 334.2h.01M422.6 341.2h.01M429.4 339.7h.01M425.2 329.4h.01M416.1 338.7h.01M433.8 339.4h.01M420.3 341h.01M446.8 325.9h.01M439.1 340.7h.01M445.1 329.2h.01M464.5 330.8h.01M467.3 348.9h.01M460.5 327.1h.01M465.9 341.9h.01M458.4 345.3h.01M458.6 341.8h.01M459 334.9h.01M458.3 332h.01M461.1 348.7h.01M458.5 336.7h.01M461 334.5h.01M457.7 339.5h.01M463.4 339.8h.01M465.6 332.6h.01M462.5 332.1h.01M465.5 344.4h.01M459.7 329.2h.01M465.9 338.1h.01M465.9 327.6h.01M459.5 338.3h.01M463.6 331.4h.01M457.7 342h.01M458.6 337.1h.01M458.4 336.8h.01M459.5 324.3h.01M470.2 325.2h.01M466.1 321.6h.01M464.5 337.5h.01M460.4 331h.01M462.5 342.4h.01M459.1 333.7h.01M470.1 331.6h.01M463 331.2h.01M468.1 336h.01M461.6 326.9h.01M457 344.4h.01M461.5 337.4h.01M469 328.4h.01M458 335.7h.01M465.4 332h.01M468.2 332.2h.01M466.6 333h.01M465.7 339.8h.01M467.7 330.7h.01M457.2 334h.01M466.4 341h.01M467.9 328h.01M470.5 329.3h.01M457.6 337.3h.01M465.7 349.7h.01M470.4 334.9h.01M459.7 336.1h.01M464 348.2h.01M469.5 331h.01M464 329.7h.01M464.1 331.1h.01M467.4 329.4h.01M465.4 332.5h.01M467.9 332.1h.01M467.3 329.6h.01M461.7 335.5h.01M469.2 335.5h.01M489.4 340.7h.01M496.9 342.4h.01M490.8 342.5h.01M485.8 352.4h.01M495.2 349.5h.01M488.8 341.6h.01M493.5 331.3h.01M495.2 342.2h.01M486 343.8h.01M491.3 337.7h.01M486.8 353.2h.01M494.6 350h.01M485.7 345.8h.01M484.8 340.3h.01M493.3 327.3h.01M486.2 341.7h.01M492.9 334.3h.01M486 344.4h.01M492.2 331.3h.01M484.4 372.7h.01M495.5 332.4h.01M495 336.8h.01M495.5 347.4h.01M488.4 343.5h.01M491.3 349.3h.01M493.2 326.5h.01M487.4 352.1h.01M485.9 333.4h.01M485.8 338.4h.01M493.8 338.6h.01M492.3 355.7h.01M488.4 344.2h.01M487.7 338.1h.01M493.4 333.1h.01M488.4 344.9h.01M484.6 320.1h.01M495.3 329.6h.01M487.6 347.8h.01M489.2 335.4h.01M495.5 349.1h.01M490.4 331.9h.01M495.2 354.8h.01M492.1 346.5h.01M484.7 345.8h.01M495.1 356.5h.01M488.3 329.6h.01M490.5 344.2h.01M496.1 345.4h.01M488 344.6h.01M496.7 329.8h.01M484.1 335.3h.01M491.2 335.5h.01M494.9 354.6h.01M490.2 344.5h.01M488.3 342.6h.01M484.3 343h.01M496.3 343h.01M495.3 319.2h.01M489 329.1h.01M492.4 355.3h.01M492.1 364.7h.01M490.6 366.9h.01M486.5 369.1h.01M484.5 358.8h.01M489.9 370.7h.01M491.2 363.2h.01M487.3 361.9h.01M490.9 361h.01M489.4 365.1h.01M486.4 366.7h.01M491.2 360.2h.01M491.7 359.5h.01M485.4 371h.01M499.2 339.6h.01M506.8 344.6h.01M506.8 331.1h.01M500.3 338.7h.01M503 336.3h.01M505.9 341.3h.01M509.8 328.6h.01M520.9 330.7h.01M501.3 344.8h.01M514.8 338.7h.01M502.1 324.3h.01M500.5 338.9h.01M497.8 335.8h.01M499.6 335.4h.01M503.4 351.3h.01M504.5 346.5h.01M500.2 339.8h.01M502.3 340.1h.01M504.9 347h.01M499.5 347.4h.01M500.3 339.5h.01M518.1 350.9h.01M499.5 348.2h.01M516.6 344.4h.01M517.2 344.1h.01M501.8 341h.01M511.1 343.5h.01M517.3 339.4h.01M511.1 336h.01M510.4 351.2h.01M505.7 344.5h.01M514 331.1h.01M513.3 335.3h.01M518.4 336h.01M503.6 333.7h.01M512.1 338.7h.01M518.2 332.7h.01M518 339.7h.01M518.8 337.8h.01M506.5 345.3h.01M517.5 321.6h.01M517.2 331.4h.01M510.7 336.6h.01M504.4 341.4h.01M504.8 335.1h.01M498.3 351.7h.01M515.2 345.3h.01M501.4 349.2h.01M520 333.5h.01M510.1 334.6h.01M511 337.3h.01M497.3 339.1h.01M503.1 331.7h.01M500.6 344h.01M507.4 332.6h.01M512.4 346.5h.01M516.3 344.8h.01M517.1 333.3h.01M515.6 340.2h.01M499.8 347h.01M515.6 336.3h.01M504.9 344.3h.01M512.2 343.4h.01M516.8 347.6h.01M502.4 340.7h.01M518.1 333.3h.01M507.2 355.1h.01M509.7 345.8h.01M509 344.4h.01M503.3 347h.01M501.6 334.2h.01M515.3 338.5h.01M516.1 339.6h.01M501.4 343.9h.01M513.3 339.9h.01M498 345.5h.01M516.4 348.3h.01M513 334.9h.01M519.4 345.2h.01M508.5 335.1h.01M501.3 337.1h.01M516.8 336.6h.01M502.2 337.9h.01M517.6 336.2h.01M515.8 337.5h.01M505.2 328.8h.01M513 345.3h.01M513.9 341.2h.01M509.9 335.7h.01M503.6 342.7h.01M510.5 347.7h.01M499.8 344h.01M501.3 331.6h.01M504.8 336.6h.01M499.7 344.7h.01M513.3 340.3h.01M514.9 332.8h.01M512.7 338.4h.01M499.4 342.5h.01M504.3 332.6h.01M500.8 344.9h.01M505.2 341.3h.01M520.9 327.1h.01M515.4 332.9h.01M509.9 339.1h.01M505.1 333.5h.01M506.3 341.2h.01M516.6 335h.01M498.2 344.5h.01M508.2 342.1h.01M579.6 330.4h.01M540.4 325.9h.01M570.1 333.3h.01M541 336.9h.01M657.3 332.6h.01M630.9 332.7h.01M537 333.8h.01M658.9 329.9h.01M650 327.6h.01M668.9 337.2h.01M615.8 332.1h.01M611.6 324.8h.01M540.5 336.8h.01M668.6 356.9h.01M565.6 318.4h.01M598.1 326.3h.01M558.8 325.2h.01M593.3 332.8h.01M527.5 332.2h.01M584.3 325.4h.01M523.9 330.3h.01M660.4 327.4h.01M651.6 329.7h.01M539.3 328.8h.01M591.9 323.3h.01M536.7 336.5h.01M651.7 318.5h.01M593.3 321.4h.01M599.9 321.8h.01M647.3 350.6h.01M662.5 330.9h.01M641.7 340h.01M521.9 338.8h.01M638.8 335.4h.01M623.4 328.2h.01M653.4 337h.01M522.5 344.6h.01M632.5 328h.01M628.4 328.8h.01M678 339.9h.01M644.5 345.3h.01M660 336.7h.01M589.7 330.1h.01M642.1 335.7h.01M651.4 334h.01M551.9 324.6h.01M569.9 318.9h.01M563.6 319.9h.01M604 334.4h.01M557.7 333.7h.01M627.8 327.6h.01M631.7 339.7h.01M586.6 313h.01M538.7 320.7h.01M625.3 334.2h.01M654.7 309.7h.01M558.4 324.1h.01M633 343.4h.01M665.5 345.2h.01M557.1 315.1h.01M573.7 317h.01M580.4 323.8h.01M595.3 310.2h.01M558.8 311.2h.01M648.3 338.2h.01M576.5 321.9h.01M562.4 318.1h.01M542.1 336.1h.01M523.5 327.2h.01M627.2 340.9h.01M611.1 319.5h.01M677.6 336.1h.01M675.4 340.6h.01M524.7 333.5h.01M596.6 320.5h.01M596.3 314.5h.01M657.6 335.8h.01M542.7 331.5h.01M563.2 315.7h.01M645.7 340h.01M522.5 330.8h.01M551.8 322.6h.01M663.2 330.8h.01M562.9 317.3h.01M660.6 343.7h.01M674.2 328.1h.01M612.6 332.8h.01M668.2 326.5h.01M615.7 333.8h.01M625 346h.01M574.3 324.8h.01M664.2 327.9h.01M644.1 330.1h.01M586.3 334.2h.01M617.6 323.4h.01M544.6 330.1h.01M662 350.5h.01M624 329.6h.01M587 323.5h.01M648.7 338.9h.01M639.9 329.9h.01M564 337h.01M654.8 335.1h.01M610.1 335.8h.01M535.3 331.7h.01M578.2 300.7h.01M642.8 330.6h.01M594.5 329.5h.01M601.2 326.3h.01M660.1 341.8h.01M654.7 316.4h.01M602.9 332.2h.01M584.2 325.1h.01M636.8 340.5h.01M611.6 327.5h.01M629.4 336.5h.01M534 340h.01M562.5 312.4h.01M543.3 328.1h.01M610.4 328.7h.01M614.4 339.6h.01M656.8 326.7h.01M655.4 338.2h.01M521.9 338.7h.01M550.8 330.4h.01M640.9 335.6h.01M535.4 324h.01M600 332.7h.01M591.7 330.2h.01M670 355.6h.01M554.1 332.7h.01M562.5 329.4h.01M556.2 311.5h.01M547.7 309h.01M606.1 324h.01M554.1 325.8h.01M617.1 330.8h.01M632.2 317.5h.01M629.4 327.2h.01M663.6 324.6h.01M576 316.6h.01M522.8 337h.01M596.8 334.1h.01M559.1 334.3h.01M652.1 332.3h.01M645.6 340.3h.01M613.4 323.9h.01M577.6 322.1h.01M669.5 324.4h.01M540.2 328.7h.01M612 334.4h.01M609.4 328.9h.01M522.5 343.6h.01M674.4 312h.01M546.3 324.2h.01M603.1 330.7h.01M533.3 326.6h.01M596.4 323.8h.01M603.9 317.9h.01M620.4 326.8h.01M609.8 328.9h.01M645.6 326.8h.01M597.4 322.1h.01M632.3 328.1h.01M606.4 326.6h.01M623 319h.01M621.8 350.5h.01M621.9 315.9h.01M559.2 323.1h.01M586.9 330.3h.01M569.1 324.3h.01M676.8 331.7h.01M540.2 314.5h.01M615.1 326.3h.01M541.3 336.3h.01M624.8 324.8h.01M629.8 334.7h.01M556.2 319.2h.01M639.4 325.4h.01M528.4 337.5h.01M631.2 326.8h.01M609.1 322.9h.01M546.8 333.7h.01M578.1 320.2h.01M524.7 324.4h.01M660.3 352.3h.01M556.1 331.3h.01M630.1 332.1h.01M589.5 326.3h.01M634.6 331.8h.01M545.5 327.1h.01M666.8 331.2h.01M522.7 335.4h.01M549.7 319.7h.01M667.7 324.7h.01M598.9 320.9h.01M671.2 323h.01M543.4 327.8h.01M657.2 342h.01M646.3 356.8h.01M597.4 327.7h.01M608 337h.01M608.6 329.9h.01M599.8 328.8h.01M622.6 336.5h.01M652.9 344.9h.01M590.7 314.3h.01M542.2 321h.01M577.7 327.3h.01M598.8 334h.01M616.3 342.4h.01M590.1 322.9h.01M557.4 319.9h.01M659.3 334h.01M657.3 348.7h.01M646.2 327.9h.01M539.3 343h.01M665.6 328.6h.01M557.6 333.1h.01M548.4 320.9h.01M602.8 334.8h.01M560.7 336h.01M601.2 354.4h.01M582.2 349.1h.01M623.6 319.8h.01M611.5 338.7h.01M652 324.6h.01M586 335.4h.01M664.5 339h.01M650.8 341.2h.01M652.4 351.6h.01M598.6 322.8h.01M628.3 333.1h.01M576.7 310.9h.01M596.8 318.6h.01M601.6 328.8h.01M660.5 323.9h.01M532.9 354.9h.01M673.6 332.9h.01M556.9 335.4h.01M563 333.4h.01M578.5 321.5h.01M676.2 326.7h.01M648.1 349.6h.01M588.7 316.8h.01M556.1 326.3h.01M572.4 322.9h.01M605.6 333.5h.01M524.7 338.8h.01M600.3 328.2h.01M525.6 328.5h.01M521.3 330.2h.01M561.2 326.5h.01M641.2 352.8h.01M573.7 316.9h.01M652 320.9h.01M556.4 323.6h.01M591.8 321.3h.01M668.4 328.2h.01M626.4 335.2h.01M598.4 325.6h.01M580.7 318.6h.01M536.6 328.2h.01M670.9 337.7h.01M568.3 332.1h.01M631.4 328.4h.01M559.9 327.6h.01M580.5 319.3h.01M609.1 319.5h.01M600.6 325.2h.01M568.1 334.5h.01M527.7 329.4h.01M525.9 327.9h.01M611.2 326.9h.01M549.9 328.4h.01M661 335.8h.01M561.9 341.2h.01M649.9 339.5h.01M562.4 337h.01M543.5 320.7h.01M634 324h.01M600.6 323.1h.01M526.8 342.3h.01M633.6 366.7h.01M550.6 332.1h.01M542.6 323h.01M609.7 317.4h.01M572.8 332h.01M558.9 335.5h.01M559.4 326.9h.01M635.4 338.6h.01M537.6 330.9h.01M551 324.4h.01M527.2 329.1h.01M525 330.8h.01M565.9 320.1h.01M648.7 331.9h.01M646.3 341.6h.01M615.6 325.3h.01M541.5 332.7h.01M659.5 326.6h.01M612 327h.01M638.6 331h.01M659.3 327.4h.01M578.3 324.2h.01M591 322h.01M670.2 327.4h.01M534.7 331.1h.01M637.5 338.7h.01M665.7 332.4h.01M560.8 327.6h.01M667.9 328.3h.01M624.8 332.6h.01M639.6 336h.01M669.7 333.6h.01M555.4 322h.01M582.1 316.4h.01M541 331.9h.01M613.6 328h.01M567.9 318.2h.01M660.5 327.8h.01M589 322h.01M585.9 326.9h.01M593.2 328.2h.01M621.3 331h.01M534.6 324.6h.01M550.9 344.3h.01M551.2 338.8h.01M595.5 334.1h.01M600.8 321.7h.01M643 338.1h.01M548.1 326.8h.01M562 322.6h.01M647.6 341.5h.01M540.5 330.7h.01M523.3 347.2h.01M562.8 329.9h.01M629.3 330h.01M567.9 313.5h.01M543.2 321h.01M670.7 340h.01M672.3 331.9h.01M578.7 332.9h.01M593.1 326.4h.01M612 337.6h.01M629.5 341.4h.01M536.6 327.7h.01M628.7 337.5h.01M640.2 324.4h.01M609 313.2h.01M604.4 316.3h.01M650.1 326.8h.01M678.1 325.5h.01M575.3 324.4h.01M523.4 339.9h.01M643.7 342.7h.01M611 327.1h.01M577.6 322.2h.01M576.7 323.5h.01M528.2 326.9h.01M676.6 339.8h.01M672.3 337.4h.01M625.3 332.5h.01M639.8 334.6h.01M612.1 303.3h.01M634.6 322.9h.01M577.2 333.4h.01M529.6 337.2h.01M595.2 310.9h.01M535.8 343.2h.01M605.2 337.4h.01M588 331h.01M633.5 334.7h.01M591.8 329.8h.01M641.1 317.5h.01M542.7 332.7h.01M625.6 326.8h.01M552.3 330.3h.01M554.4 321.2h.01M592.1 346.9h.01M664.4 325.6h.01M608 313.9h.01M672.4 329.4h.01M536.5 329.6h.01M664.2 332.9h.01M543.2 328.7h.01M635.3 334.4h.01M625.3 330.2h.01M667 333.5h.01M650.2 340.9h.01M605.6 335.4h.01M587 326.8h.01M668.8 335.9h.01M543.5 333.5h.01M672.5 331h.01M579.6 333.4h.01M530.2 328.2h.01M599.4 310.7h.01M572.4 322.5h.01M522.6 342.9h.01M526.7 328.6h.01M584.4 325.1h.01M552.5 323h.01M558.4 334.8h.01M550.8 320.9h.01M563 330.7h.01M612.2 345.3h.01M587.1 328h.01M567.4 301.8h.01M523.4 339.5h.01M559.1 302.6h.01M563.1 315.6h.01M657.5 332h.01M589.5 330.8h.01M564.4 297.7h.01M608.7 317.6h.01M583.8 328.7h.01M656.5 334.4h.01M550.8 333h.01M608.2 321.5h.01M601.7 334.9h.01M574.3 306.7h.01M671.2 326.8h.01M571.5 323.1h.01M662.6 328.6h.01M584.8 330.7h.01M561.8 328.4h.01M579.9 327.8h.01M640.9 327.7h.01M641.4 343.5h.01M643.8 337.8h.01M576.3 318.3h.01M643.9 338.7h.01M675.2 331.6h.01M585.9 315.3h.01M606.9 317.1h.01M599.9 329.7h.01M549.4 321.4h.01M668.5 328.1h.01M530.2 315.3h.01M571.7 331.3h.01M608.5 327.3h.01M632.3 308.9h.01M652.9 351.9h.01M657.9 336.8h.01M605.1 334.5h.01M640.1 328.8h.01M595.5 329.4h.01M557.4 325.5h.01M652.1 336.8h.01M538.5 312.7h.01M617.1 317.8h.01M551.1 329.8h.01M551.1 326h.01M584.5 326.2h.01M612.2 327.2h.01M669.4 338.4h.01M663.6 327.7h.01M626.8 339.8h.01M661.3 345.4h.01M650.7 340.5h.01M653.5 323.1h.01M635.5 325.2h.01M526.2 331.5h.01M648.5 339h.01M649.8 338h.01M559.9 330.7h.01M523.1 333.4h.01M543.2 316.6h.01M618.4 343.8h.01M653.8 344.8h.01M588.3 328.6h.01M535.1 336.2h.01M541.8 319.7h.01M557.7 333.2h.01M547.3 327.8h.01M559.6 317.2h.01M616.4 334.6h.01M532.2 326.3h.01M549.8 325.6h.01M638.9 341.2h.01M647.2 343.3h.01M603.3 327.7h.01M598.3 335.8h.01M565.6 328.4h.01M576.8 325.7h.01M526.8 333.2h.01M529.3 336.4h.01M572.5 317.1h.01M579.7 326.6h.01M662.9 337.5h.01M613.5 321.4h.01M587.3 317.7h.01M592.6 336.3h.01M524.2 343.9h.01M638.4 342.8h.01M615.7 320.7h.01M537.4 319.3h.01M556.6 331.3h.01M591.8 325.2h.01M660.9 338.9h.01M602.7 343.7h.01M576.5 336.3h.01M643.5 339.8h.01M673.9 325.8h.01M677.5 330.6h.01M522.1 332.5h.01M603.3 327.1h.01M561 317h.01M548.2 336.8h.01M676.3 341.4h.01M529.8 329.3h.01M653.5 338.7h.01M608.7 316.5h.01M618.4 338.5h.01M583.8 322.8h.01M608.2 328.2h.01M597.4 312.8h.01M529.6 321.5h.01M572.8 331.2h.01M581.5 314.8h.01M533.7 306.8h.01M590.6 316.1h.01M663.4 330.8h.01M579.7 311h.01M527.9 345.9h.01M521.6 337.2h.01M579.5 319.3h.01M599.6 339.3h.01M527.3 335.4h.01M659.3 326.1h.01M645 343.2h.01M579.2 317h.01M656.5 321.4h.01M573.1 329.1h.01M556.4 337.3h.01M592.3 328.6h.01M642.6 333.3h.01M541.4 320.3h.01M555.8 327.1h.01M554 345h.01M584.6 318.6h.01M603.9 328.7h.01M671.6 325.7h.01M624 336.6h.01M553.3 311.2h.01M521.7 322.2h.01M650.6 330.1h.01M663.5 345.7h.01M582.7 334.9h.01M641.6 336.7h.01M577.8 320.5h.01M579 335h.01M637.9 341.3h.01M561.9 338.7h.01M647.4 344.3h.01M524 334.7h.01M543.1 328.4h.01M610.2 320.5h.01M604.2 338.1h.01M528 335.4h.01M658.4 321.1h.01M525.4 347.7h.01M629.8 331.5h.01M584.5 319.9h.01M546.5 337.1h.01M648.6 316h.01M583.5 324.8h.01M568.4 301.1h.01M523.3 354.4h.01M546.1 309.6h.01M552.8 332.5h.01M611.6 319.6h.01M642.6 341.6h.01M521.4 333.5h.01M569.2 335.6h.01M601 332.1h.01M574.1 315.3h.01M594.8 305.2h.01M663.2 332.6h.01M571.9 322.5h.01M536.8 323.4h.01M658.1 342.7h.01M568.4 345.8h.01M607.4 324.3h.01M564.8 350.8h.01M571.9 323.6h.01M604 332h.01M604.8 321.6h.01M563.8 330.4h.01M556.5 324h.01M607.3 327.1h.01M541.3 354.6h.01M662.6 324.3h.01M585.9 336.4h.01M541.8 335.1h.01M581.7 349.2h.01M640.4 326.1h.01M637.1 338.6h.01M557.7 329.3h.01M630.7 342.6h.01M594.5 302.7h.01M571.6 325.5h.01M618.9 325.8h.01M559.8 317.3h.01M529.8 334.8h.01M627.2 336.6h.01M641.1 321.6h.01M610.8 322.7h.01M556.5 325.5h.01M633 333.3h.01M633.5 332h.01M645.9 323.1h.01M605.3 322.9h.01M545.7 319.5h.01M543.7 345.4h.01M529.6 331.1h.01M615.1 325.6h.01M536.9 329.3h.01M552.5 327.9h.01M575.9 323.1h.01M528.2 332.2h.01M667.9 341h.01M575.8 346.2h.01M638.6 341.6h.01M562.2 333h.01M634.7 332.3h.01M574.2 325.4h.01M567.3 329.2h.01M577.4 330.1h.01M634.4 337.4h.01M648.5 339.2h.01M595.6 321.8h.01M596.6 314h.01M669.1 319.9h.01M663.3 326.3h.01M579.7 319.7h.01M608.5 329.3h.01M607.2 347.1h.01M591.5 325h.01M553.6 332h.01M678 340.1h.01M645.2 327h.01M649.2 340.1h.01M629.4 339.8h.01M645.4 350.2h.01M574.9 319.6h.01M595.8 335.3h.01M657.3 337.6h.01M571.9 350.9h.01M559.4 318.8h.01M658.6 330.9h.01M601 328.3h.01M590.7 310.3h.01M522.6 339.8h.01M594.9 324.4h.01M664.7 329.5h.01M648.4 339.3h.01M613.5 332.8h.01M528.9 342.1h.01M622.2 332.6h.01M591.7 315.2h.01M604.7 337h.01M577.9 330.9h.01M633.7 341.9h.01M649.6 331.3h.01M599.8 325.2h.01M545.8 336.2h.01M639.4 332.4h.01M644.6 330.3h.01M575.6 331.1h.01M642.5 335.3h.01M575.4 327.5h.01M526.3 332.8h.01M656 366.9h.01M531.8 329.6h.01M569.8 320.7h.01M577.6 321.6h.01M605.9 324.5h.01M585.8 318.6h.01M604.6 318.7h.01M583.4 315.2h.01M555.1 332.3h.01M604.2 330.2h.01M535.3 336.4h.01M639.5 335.8h.01M570.9 318.4h.01M641.5 335.7h.01M529.9 335.6h.01M610.4 318.6h.01M591.9 350.2h.01M647.7 338.5h.01M601.8 325.5h.01M540.2 323.9h.01M526.4 329.4h.01M573.1 325.6h.01M660.8 326.7h.01M637.8 336.3h.01M614.2 328.9h.01M639.2 342.9h.01M586.7 330.1h.01M626.8 340h.01M533.1 325.7h.01M522 335.5h.01M539.7 334.3h.01M554.8 326.6h.01M554 327.3h.01M550.8 345.2h.01M581.8 337.8h.01M554.6 320h.01M531.9 337.7h.01M648.7 329.7h.01M547.8 348.7h.01M595 322.3h.01M659.5 319h.01M636.4 342.7h.01M613.6 339.9h.01M575.4 317h.01M526.9 346.5h.01M621.4 329.8h.01M652.2 341.3h.01M571.3 328.6h.01M378 405h.01M383 369h.01M387 361h.01M365 448h.01M466.5 301h.01M507.5 378h.01M503 369h.01M401.2 288.8h.01M412.1 286.6h.01M413.8 287.1h.01M405.5 304.4h.01M412.1 298.9h.01M415 297.8h.01M420.9 297.8h.01M421.6 303.7h.01M427.5 307.9h.01M379.5 306.7h.01M387.8 306.7h.01M398.4 308.4h.01M465.4 303.7h.01M489.5 306h.01M497.8 300h.01M412 288.5h.01M419.5 305h.01M424 306.5h.01" fill="none" stroke="#0072bc" stroke-width="3.50" stroke-linecap="round"/>
<path d="M137.1 376.7h.01M143 376.5h.01M146.3 378.8h.01M136 369h.01M138.1 379.2h.01M138 413.4h.01M139.7 404.3h.01M136.6 376.7h.01M139.9 394.1h.01M147.7 386.4h.01M143.7 389.7h.01M141 389.2h.01M141 389.7h.01M147.1 376.1h.01M142.6 377.7h.01M147 392.7h.01M144.4 369.9h.01M148.2 384.7h.01M139.1 411.7h.01M144.1 396.9h.01M138.4 374.2h.01M146.9 385.2h.01M141.8 381.9h.01M146.3 380.8h.01M138 347h.01M141.7 383.3h.01M146.1 397.7h.01M144.3 393.1h.01M140.9 396.9h.01M140.1 400.5h.01M139.3 391.8h.01M145.4 384.6h.01M140 384.2h.01M147.9 399.3h.01M144.2 363.3h.01M141.9 378.8h.01M142.8 378.8h.01M142.3 373h.01M326.3 419.7h.01M182.3 368.9h.01M184 385.9h.01M254.4 396.8h.01M284.3 397.1h.01M288.5 387.6h.01M295 408.6h.01M277.7 405.2h.01M276.5 397.9h.01M231.5 388.4h.01M167.5 380.5h.01M160.3 377.1h.01M314.2 418h.01M290.8 400.2h.01M157.8 379.5h.01M204.6 376.5h.01M217.9 372h.01M227.4 382.9h.01M247 395.8h.01M209.9 387.8h.01M296.1 411.1h.01M305.4 421.8h.01M157.7 393.2h.01M303.2 412.2h.01M257.7 386.7h.01M184.5 365.8h.01M308.2 420.7h.01M208.5 370.4h.01M187.6 380.3h.01M318.5 421.4h.01M276.7 389.8h.01M253.3 398.3h.01M245.1 392.7h.01M233.4 392.6h.01M177.8 397.5h.01M178.5 378.1h.01M206.3 380.1h.01M269.1 397h.01M237.8 374.1h.01M322.6 401.7h.01M234 396.6h.01M204.3 366.8h.01M203.3 372.4h.01M204.3 374.7h.01M180.6 369.3h.01M184.3 373.5h.01M282.4 409.3h.01M209.2 380.7h.01M195.7 378.4h.01M253.1 390.3h.01M257.5 399.6h.01M321.7 392.3h.01M316.8 446.2h.01M218.9 376h.01M298.5 403.8h.01M260.3 401.2h.01M210.5 372.3h.01M160.3 376.1h.01M290.6 410.5h.01M168.1 376.1h.01M234.7 385.9h.01M185.5 367.2h.01M215.6 376.5h.01M285.1 397.7h.01M273.3 396.8h.01M275.4 408h.01M248.3 394.5h.01M169.5 383.5h.01M186.4 385.7h.01M281.5 399.9h.01M199.9 396.1h.01M251.6 387.2h.01M300.8 409.5h.01M256 382.2h.01M178.8 370.3h.01M245.8 394.7h.01M263.8 400.9h.01M310.4 409.3h.01M216.4 398.1h.01M284.9 403.6h.01M280.9 403h.01M257.2 384.4h.01M168.3 379.1h.01M319.8 411.9h.01M177 381h.01M208.8 377.1h.01M206.1 376.9h.01M258.8 395.5h.01M288.7 389.5h.01M219.6 375.9h.01M289.6 403.6h.01M255.9 396.4h.01M239.7 387.5h.01M327.1 402.4h.01M168.6 376.5h.01M174 366.9h.01M237.7 388.3h.01M291 392.5h.01M241.1 403.6h.01M313.4 421.2h.01M223.8 384.7h.01M196.1 377.8h.01M194.2 372.1h.01M203.9 386.5h.01M314.5 412.4h.01M184.4 375.5h.01M195.3 385.3h.01M295.8 415.2h.01M174.9 372.4h.01M329.9 424.2h.01M192.3 373.3h.01M244.1 389.6h.01M307 393.4h.01M307.2 410.8h.01M267 392.4h.01M234 394.4h.01M161.8 375.2h.01M310.9 418.1h.01M316.2 425.3h.01M170 364.4h.01M199.5 356.9h.01M216.7 391.7h.01M202.8 406.8h.01M241.4 409.5h.01M293.7 405.4h.01M247 391.7h.01M234.7 380h.01M261.1 401.7h.01M306.4 420.5h.01M237.3 388.4h.01M223 387.7h.01M259.7 389.9h.01M286.7 402.2h.01M194.8 383.6h.01M279.4 389.9h.01M292.8 398.5h.01M158.2 383.2h.01M201.9 375.9h.01M264.7 398.9h.01M168.6 379.6h.01M198.1 383.2h.01M300.6 404.1h.01M310.7 419.6h.01M215.9 371.8h.01M284.1 397h.01M262.5 392.9h.01M266 386.4h.01M161.9 378.8h.01M261.6 391.7h.01M276.1 382.9h.01M161.3 385.9h.01M284.8 411h.01M310.8 404.3h.01M184.1 424.1h.01M213.3 409.1h.01M172.2 388.5h.01M311.9 407.4h.01M314.7 405.9h.01M255.1 387.3h.01M179.1 384.5h.01M239.7 392h.01M184.3 380.2h.01M291.7 416h.01M291.2 411.3h.01M174.8 391.5h.01M199.4 367.4h.01M282.7 383.7h.01M286.5 411.6h.01M164.7 378.9h.01M192.9 384h.01M229.4 380h.01M173 376.4h.01M313.4 403.2h.01M164.7 381.3h.01M324.6 422h.01M223.7 378.5h.01M216.9 400.4h.01M307.7 411.8h.01M261.9 401.7h.01M240.8 371h.01M204.5 385.7h.01M297.2 411.6h.01M213.1 372.9h.01M234.6 382.2h.01M161.6 384.5h.01M167.1 367.3h.01M303.7 394.5h.01M169.2 381.4h.01M158.5 386.8h.01M220.3 392.5h.01M190.4 379.8h.01M266.5 386.3h.01M316.2 412h.01M261.2 388.9h.01M221.7 377.7h.01M218.4 376.3h.01M287.6 397.3h.01M160.7 393.3h.01M162 373.9h.01M179.9 378.5h.01M331.4 420.5h.01M167.5 374.7h.01M323.8 398.5h.01M251.2 392.8h.01M323.3 405.5h.01M222 380.5h.01M271.1 395.5h.01M164.4 377.1h.01M225.5 386.3h.01M188.8 379.4h.01M310.2 408h.01M209.8 392.2h.01M174.7 382.7h.01M236.5 397.5h.01M259.8 405.3h.01M199.1 379.5h.01M315.5 419.4h.01M187 370.4h.01M174 385.4h.01M254 389.9h.01M304.8 404.2h.01M325.5 400.5h.01M167.7 375.7h.01M157.5 386.9h.01M301.6 407.4h.01M215.3 409.7h.01M311.6 410.9h.01M172.9 381.7h.01M170.3 376.9h.01M192.3 379.3h.01M241.5 387.2h.01M197.9 375.9h.01M161.4 383.9h.01M156.3 386h.01M209.5 378.9h.01M268.6 382.6h.01M247.5 383.3h.01M247.1 391.4h.01M159.7 382.4h.01M239.5 402.2h.01M186.4 377.4h.01M236.9 401.2h.01M190.1 379.4h.01M312.7 423h.01M160.8 385.6h.01M168.5 391.2h.01M240.2 377.5h.01M185.1 410.9h.01M241.1 390.6h.01M288.9 413.4h.01M297.5 405.6h.01M167.8 375.7h.01M195.2 382.4h.01M320.9 409.9h.01M319.7 412.9h.01M247 405.9h.01M267.7 390.2h.01M176 384.6h.01M206.3 376.7h.01M165.3 372.6h.01M300.4 399.7h.01M246 390.3h.01M193.8 377.4h.01M223.4 373.4h.01M287.9 396.1h.01M311.1 404.2h.01M282.3 394.7h.01M246.1 387.5h.01M315.3 410.4h.01M275.5 402.4h.01M225.4 396.3h.01M249.7 392.5h.01M255.7 407.7h.01M270.6 402.7h.01M253.4 406h.01M193.5 391.6h.01M162.9 372.8h.01M163.1 378.9h.01M267.8 389.1h.01M304.6 395.7h.01M320.9 411.9h.01M226.8 389.8h.01M256.6 413.1h.01M183.3 377.5h.01M159.2 375.4h.01M277.2 394.7h.01M223.9 376.8h.01M217.8 369h.01M208.5 373h.01M155.4 382.7h.01M320.9 403.4h.01M245 393.5h.01M321.3 414.2h.01M219.9 384.1h.01M322.1 416.4h.01M196 374.3h.01M165.1 380h.01M159.5 379.2h.01M251.2 390.1h.01M163.4 389.2h.01M321.3 407.1h.01M167.2 368.8h.01M323.5 399.1h.01M262.9 399.5h.01M203 382.1h.01M311.7 403.9h.01M306.5 411.5h.01M320.3 417.6h.01M156.9 373.3h.01M292.9 403.1h.01M175.1 367.1h.01M203.9 386.5h.01M288.8 398.9h.01M200.4 376.5h.01M253.3 403.5h.01M253 390h.01M240.7 393h.01M253.6 393.4h.01M223.1 386.5h.01M226.3 384.1h.01M258.5 398.4h.01M307.9 396.8h.01M193.8 372.3h.01M195.2 374.8h.01M251.7 380.3h.01M195.5 378.4h.01M286.7 415h.01M316.3 414.5h.01M231.1 379.9h.01M229.9 389.9h.01M247.7 389.9h.01M292.1 393.2h.01M212.5 379.3h.01M298.7 423h.01M320 404.2h.01M220 372.9h.01M270.1 380.5h.01M198.5 370.4h.01M170.4 385.9h.01M257 393.7h.01M302.3 396.5h.01M174 387.1h.01M180.6 376.1h.01M177.5 373.6h.01M307.9 418.9h.01M188.2 371.6h.01M272.5 394.5h.01M180.9 362.6h.01M226.2 384.8h.01M196.3 385.8h.01M293.8 405.1h.01M279.9 418.4h.01M225.5 389.2h.01M163.4 389.7h.01M236.2 397.7h.01M188.8 430.8h.01M250 389.2h.01M217.6 385.8h.01M156.5 388.3h.01M256 395.9h.01M330.5 424h.01M197.2 376.3h.01M230.6 396.8h.01M207.1 377h.01M179.8 399.7h.01M196.4 369.4h.01M233.6 383.7h.01M193.4 375.2h.01M236.5 389h.01M175.5 372.2h.01M318.2 392.9h.01M167.2 372.2h.01M176.4 373.5h.01M207.8 388.9h.01M254.8 378.3h.01M219.5 391.2h.01M331.7 412.8h.01M174.5 386.3h.01M292.3 410.8h.01M164.3 375.1h.01M305.1 411.1h.01M260.3 400.9h.01M194.2 381.1h.01M312 409.1h.01M198.7 372.2h.01M285.8 397.8h.01M285.1 410.7h.01M319.2 421.5h.01M197.2 376.8h.01M193 373h.01M310 416h.01M223.3 376.5h.01M264.4 401.5h.01M155.4 388.5h.01M251.1 393.7h.01M171.7 376.7h.01M190.5 378.2h.01M226.1 390.4h.01M164 385h.01M328.7 412.5h.01M280.7 438.1h.01M185.8 373.9h.01M172.5 379.5h.01M199.7 381.3h.01M331.1 416.6h.01M294.1 405.6h.01M289.5 405.2h.01M233.3 393.8h.01M182 386.4h.01M289.1 402.8h.01M241 386.1h.01M234.7 387.7h.01M310.7 404.7h.01M194.5 369.5h.01M230.6 372.6h.01M305.7 394.9h.01M250.5 390.7h.01M285.3 402.5h.01M263.3 389.4h.01M224.7 383.8h.01M329.9 417.9h.01M155.5 395h.01M252.8 400.2h.01M281.8 427.1h.01M231 381.1h.01M329.9 424.8h.01M317.7 416.6h.01M312 420.2h.01M243.8 423.1h.01M268.6 392.9h.01M309.3 408.1h.01M238.5 388.7h.01M238.5 390.2h.01M284.2 392.3h.01M318.2 390.6h.01M260.2 402.9h.01M192.1 399.8h.01M220.4 385.9h.01M277.1 401.7h.01M287.9 395.6h.01M316.3 399.5h.01M231.5 384.9h.01M170.7 374.7h.01M239.1 389.7h.01M304.5 412.4h.01M166.2 380.4h.01M230.1 380.4h.01M198.8 380.5h.01M295.4 407.3h.01M323.5 407.4h.01M222.1 392.3h.01M234.1 388.7h.01M269.1 396.2h.01M210.7 369.3h.01M191 361.8h.01M239.5 392.7h.01M297.8 399.3h.01M179.4 367.9h.01M269.9 401.5h.01M321.8 399.4h.01M270.4 386.2h.01M290.4 399.4h.01M191.5 369h.01M189.8 397.5h.01M252.6 398.4h.01M236.7 382h.01M272.8 390.2h.01M208.3 377.7h.01M241.3 389.5h.01M171.4 376.8h.01M304.3 407.9h.01M247.8 373.9h.01M167.7 371.6h.01M228.8 384.4h.01M178.8 371.6h.01M256.1 384.2h.01M263.4 394.1h.01M324.5 399.7h.01M228.4 373.4h.01M326.5 411.8h.01M198.6 371.6h.01M280.2 398.5h.01M164.6 389h.01M267.2 384.3h.01M300.4 406.4h.01M291.3 409h.01M220.2 368h.01M204.6 365.1h.01M285.8 403.1h.01M302.7 397.5h.01M245.3 403.9h.01M271.7 399.4h.01M257.2 391h.01M295.7 420.6h.01M174.2 380.3h.01M275.5 400.8h.01M247.2 399.4h.01M289.8 411h.01M178 374.6h.01M278.6 395.2h.01M202.1 397.4h.01M307.8 431.5h.01M155.5 384.6h.01M302 417.7h.01M241.3 385.4h.01M261.5 388.8h.01M268.7 405.9h.01M234.1 391.5h.01M300.2 407.1h.01M285.4 397.4h.01M236 372.5h.01M331.3 421.9h.01M166.5 382.9h.01M158.2 381.8h.01M199.3 379.4h.01M187.8 372.3h.01M216.1 377.2h.01M222.9 396.4h.01M314.4 411h.01M318.6 422.3h.01M224.3 381.4h.01M225.9 387.9h.01M267.3 392.8h.01M287.3 397.4h.01M203.2 376.5h.01M328.6 384.7h.01M180 373.7h.01M173.7 371.1h.01M171.2 365.2h.01M294.9 411.9h.01M317 410.9h.01M243.2 387.6h.01M217.3 375.1h.01M305.3 414.8h.01M244.5 413.3h.01M295.8 405.4h.01M300.9 396.1h.01M167.6 379.7h.01M231.8 388.7h.01M234.4 385.5h.01M210.1 394.8h.01M301.4 402.4h.01M330.4 425.8h.01M163.8 366.9h.01M274.4 395.6h.01M207.8 372h.01M169.1 380.5h.01M331.2 411.8h.01M168.5 374.1h.01M250 388h.01M174.8 380.6h.01M208.3 379.1h.01M293.4 391.8h.01M179.9 385.7h.01M160.5 378.7h.01M190.5 393.6h.01M243.4 387.6h.01M218.6 375.2h.01M311.6 417.3h.01M298.4 402.9h.01M276.4 386h.01M226.7 375.9h.01M179.9 367.9h.01M252.1 393.8h.01M278.1 394.5h.01M311.1 401.7h.01M176.9 377.9h.01M239.8 405.3h.01M268.3 419.5h.01M305.2 395.7h.01M271.7 399.6h.01M224.7 379.1h.01M245.1 388.5h.01M280.4 420.3h.01M234.2 393h.01M254.6 399.7h.01M230.3 391.3h.01M210.1 379.1h.01M319 420h.01M238.5 392.8h.01M243.2 385.4h.01M157.5 381h.01M279.3 404.8h.01M290.5 405.6h.01M286.4 417.5h.01M329.5 412.6h.01M236.5 382.3h.01M229.8 388.3h.01M174.2 354.4h.01M222.1 404h.01M211.6 380.2h.01M313.6 428.1h.01M218.4 376.5h.01M169.6 385.1h.01M330.3 405.7h.01M253.5 392h.01M312 408.8h.01M279.8 407h.01M217.5 367.9h.01M278.8 386.7h.01M238.6 382.8h.01M269.7 411.6h.01M232 390h.01M236.6 378.5h.01M156.6 380.1h.01M328.4 404.7h.01M238.8 393h.01M225 407.3h.01M175.8 383.5h.01M269.6 387.4h.01M262.4 385.7h.01M258.2 392.6h.01M155.4 380.5h.01M261.4 402.4h.01M194.8 370.5h.01M173.8 383.7h.01M316.8 422.6h.01M299.1 415.1h.01M308.8 389.9h.01M200.6 368.6h.01M306.3 404.3h.01M281.2 387.4h.01M185.5 379.7h.01M313.5 398.1h.01M289.6 380.2h.01M236.1 385.8h.01M234.2 389.9h.01M223.8 381.1h.01M303.5 397.7h.01M231.1 392.7h.01M220.6 369.4h.01M311.3 408.1h.01M312.3 397.7h.01M244.7 391.8h.01M186.8 368.5h.01M244.9 390.2h.01M251.1 381.4h.01M310 398.7h.01M224.6 380.7h.01M235.5 411.2h.01M277.9 392.7h.01M155.1 385.7h.01M302.7 392h.01M316.7 400h.01M290.7 410.4h.01M251.4 396.6h.01M283.9 395.4h.01M258.2 396.7h.01M237.2 387.1h.01M173.9 379h.01M229.8 379.1h.01M326 399.7h.01M267 407.8h.01M221.5 394.8h.01M280.6 395h.01M232.9 396.5h.01M234.5 386.9h.01M259.5 393.6h.01M299 396.9h.01M173.6 375.3h.01M296.9 405.9h.01M291.7 396.6h.01M215.8 374h.01M326.2 424.2h.01M272 426.3h.01M186.3 364h.01M216.4 384h.01M270.8 384.4h.01M160.1 377.2h.01M319.6 423.4h.01M320.3 387.9h.01M206.1 384.7h.01M293.3 401h.01M274.1 394.8h.01M184.8 380.9h.01M210.9 381.3h.01M326.5 406.9h.01M164.5 379.2h.01M246.4 389.9h.01M205.6 372.6h.01M283.5 389.1h.01M168 392.3h.01M208.5 370h.01M236.4 387.5h.01M215.5 379.7h.01M310.9 409.3h.01M207.5 384.2h.01M277.3 398.8h.01M220.2 391.5h.01M218.4 380.9h.01M299.5 397.8h.01M328.3 413.9h.01M187.9 382.3h.01M274.2 390.8h.01M188.7 389.5h.01M176.8 367.8h.01M320.4 426.2h.01M329.2 408.3h.01M249 383h.01M308.8 391.2h.01M295.1 410.9h.01M268.8 392.8h.01M232.6 391.3h.01M286.4 412.9h.01M323.4 401.3h.01M169.2 381.8h.01M198.1 382.9h.01M217.2 374.8h.01M227 393.8h.01M264.7 381.4h.01M328.3 426.8h.01M251.5 396.4h.01M241 388h.01M219.6 364.8h.01M213.8 384h.01M326.6 416.9h.01M237.7 381.9h.01M195.2 383.4h.01M234.1 391.1h.01M293.2 409h.01M300.6 407.7h.01M234.3 383.4h.01M263.5 386.1h.01M244 386.9h.01M174.8 374.8h.01M292.3 413.9h.01M288.2 397.6h.01M301.6 406.7h.01M226 386h.01M231.4 373.6h.01M300.8 420.1h.01M311.2 408.4h.01M209.8 386.4h.01M214.9 381.1h.01M176.6 376.1h.01M209.1 390.6h.01M209.7 379.4h.01M253.9 391.8h.01M154.4 388h.01M295.7 399.2h.01M242.4 386.6h.01M200.4 372h.01M234.4 377.9h.01M286.9 389.1h.01M328.3 420.6h.01M249.5 395.9h.01M231.6 385.1h.01M304.3 405.4h.01M286.5 393.2h.01M154 388.2h.01M266.2 420.1h.01M195.7 382.7h.01M291.5 406.8h.01M320 403.2h.01M170 373.3h.01M270.4 397.5h.01M286.9 397.4h.01M279 413.5h.01M266.8 389h.01M281.1 397.8h.01M249.8 390.4h.01M325.5 440.3h.01M214.2 381.4h.01M173.6 376h.01M212.2 379.3h.01M163.2 363.9h.01M182.2 377.9h.01M321.6 411.7h.01M220.1 379.9h.01M182.3 372h.01M262.9 390.4h.01M162.3 379.1h.01M194.4 379.8h.01M238.8 391.4h.01M264.4 399.5h.01M184.3 368.9h.01M228.7 390.7h.01M204.6 380h.01M304.7 427.9h.01M275.9 399.5h.01M314.1 406h.01M269.2 404.1h.01M180.8 381.1h.01M227.9 381.3h.01M170.8 375.6h.01M173.2 369.5h.01M156.9 379h.01M190.3 389.3h.01M316.8 402.5h.01M172.8 380.9h.01M169.3 350.6h.01M263 392.8h.01M214.3 379.2h.01M171.3 362.5h.01M188.8 390.7h.01M229.9 378.7h.01M292.6 402.9h.01M285.1 399.5h.01M325 414.2h.01M313.2 403.1h.01M235.7 394h.01M281.7 409.2h.01M160.2 393.2h.01M181.6 380.4h.01M304.1 410.3h.01M288.6 398.9h.01M195 328.1h.01M173.1 396.2h.01M252.6 387.7h.01M177.5 373.3h.01M170.4 371.5h.01M222.7 388.3h.01M322.7 407.8h.01M294.7 398.1h.01M234.6 384.5h.01M171.1 383.2h.01M279.1 401h.01M172.6 379.6h.01M288.5 413.9h.01M209.3 164.7h.01M163 346h.01M143 435h.01M148 427h.01M212 436h.01M259 363h.01M257 370h.01M199 344h.01M207 353h.01M346.1 404.1h.01M341.3 402.6h.01M341.2 417.2h.01M340.7 411.6h.01M343.7 414.3h.01M341.6 407h.01M346.2 399.4h.01M342.3 395.2h.01M345.1 413.9h.01M344.3 402.4h.01M340.7 407h.01M344.5 400.1h.01M341.1 425.8h.01M346.2 405.9h.01M342.4 404.6h.01M346.5 407.8h.01M345.1 406.8h.01M345.6 411.4h.01M343.6 405.3h.01M344.6 406.7h.01M344.1 405.8h.01M342.8 402.8h.01M345.7 394.8h.01M344.2 403.4h.01M362.3 395.2h.01M360.3 398.2h.01M363.2 405.4h.01M367.1 390.8h.01M355.8 391.3h.01M364.5 382.9h.01M366.3 404.5h.01M357.5 402.8h.01M366.8 386.3h.01M365.9 404.2h.01M356.6 377.6h.01M371.1 404.3h.01M369.1 389.8h.01M356.6 402.1h.01M368 390.8h.01M360.5 408.9h.01M357.1 390.1h.01M360.6 394.9h.01M358 387.2h.01M360.5 405.4h.01M369 387.8h.01M360.6 408.8h.01M351.4 390h.01M366.6 421.3h.01M364.2 380.7h.01M369.4 395.2h.01M351.8 405.7h.01M356.8 387.9h.01M358.1 403.6h.01M353.7 390.7h.01M365.5 391.4h.01M363.2 393.6h.01M356.5 413.4h.01M364.5 399h.01M357.8 388.5h.01M364.9 399.1h.01M355.4 416.6h.01M356 375.3h.01M369.3 394.7h.01M360 401.9h.01M366.3 409.3h.01M371.2 402.8h.01M370.1 406.3h.01M364.8 396.7h.01M355.2 398h.01M357 404.3h.01M370.8 390h.01M360.3 390.5h.01M354.6 400.1h.01M364.5 397h.01M366.1 392.7h.01M369.8 409.8h.01M356.8 388.2h.01M364.4 395.8h.01M368.4 392.7h.01M358.6 404.4h.01M354.4 391h.01M366.4 400.2h.01M356.6 398.4h.01M354.2 390.8h.01M366.9 395.2h.01M352.5 380.1h.01M362.5 387.2h.01M361.3 389.9h.01M361.3 380.8h.01M359.5 402.1h.01M357.1 399.2h.01M359.9 401.7h.01M362.8 397.1h.01M367.2 384.9h.01M362.9 407.6h.01M352.6 397.8h.01M354 406.9h.01M352.3 422.2h.01M368.5 397.9h.01M369 408.5h.01M363.8 381.4h.01M370.3 393.6h.01M362.9 402h.01M367.5 393.5h.01M365.6 397.7h.01M370 393.9h.01M362.1 395.3h.01M370.9 400.1h.01M367.1 408.4h.01M353.7 388.6h.01M358.2 385.2h.01M362.1 402.7h.01M352.2 403.9h.01M359.1 391.3h.01M368.2 390.4h.01M354.3 385h.01M428.7 413.4h.01M384.4 397.1h.01M390.6 402.2h.01M388.8 406.1h.01M422.7 438h.01M398.2 428.3h.01M385.2 389.9h.01M423.8 389h.01M413.4 396.4h.01M382.1 416.5h.01M401.9 412.5h.01M392.3 416.5h.01M439.3 404.3h.01M384.9 409.7h.01M421.1 421.8h.01M405.6 411.1h.01M391 408.6h.01M412.7 414.6h.01M428.4 400.3h.01M400.3 419.2h.01M406.3 401.3h.01M390.2 407.4h.01M420.3 416.7h.01M438.4 414.7h.01M383.9 448.4h.01M429.9 426h.01M391.8 399.4h.01M411.6 409.9h.01M434.8 415h.01M378.8 408.6h.01M379.1 415.4h.01M377.8 402.4h.01M377.9 422.6h.01M399.9 430.2h.01M419.1 396.1h.01M403.3 401.5h.01M413.9 430.3h.01M439.6 407.2h.01M428.1 417.6h.01M439.7 402.5h.01M403.7 418h.01M433.3 418.4h.01M432.4 417.7h.01M377.3 431.7h.01M432.8 411h.01M406 409.2h.01M384.7 417h.01M433.8 421.9h.01M420 413.8h.01M427.7 412.6h.01M409.6 427.4h.01M402.6 407.6h.01M421.9 422.5h.01M384.1 398.7h.01M377.1 425.2h.01M380.8 411.1h.01M379.7 409.3h.01M413.5 411.3h.01M402.6 409.2h.01M424.6 403h.01M411.4 429.9h.01M406.4 421.5h.01M390.5 426.3h.01M398.3 422.4h.01M428.5 427.2h.01M431.6 412.1h.01M419.7 428h.01M398.7 414.6h.01M381.7 425.8h.01M431.1 396.5h.01M400.3 420.1h.01M436.6 430.1h.01M432.3 426h.01M377.1 429.8h.01M416.7 399.9h.01M428.9 433.8h.01M415.4 430.7h.01M414.7 425.1h.01M386.1 419h.01M425.4 409.3h.01M389 408.4h.01M381.2 404.3h.01M386.8 402.1h.01M386.6 398.6h.01M404.9 419.8h.01M408.7 401.5h.01M390.2 409.3h.01M420.6 409.8h.01M388.9 407.8h.01M398.3 417.1h.01M419.2 423.1h.01M386.9 408.1h.01M391.7 415.8h.01M378.6 429.9h.01M400.7 423.3h.01M426.9 440.6h.01M419.6 389.5h.01M425.8 406h.01M404.4 417h.01M386.8 410.1h.01M378.6 426.3h.01M384.7 414h.01M395 412.7h.01M403 416.7h.01M406 412.1h.01M421.9 402.1h.01M432.3 425h.01M414.9 422.4h.01M382 417.8h.01M428.3 398.6h.01M417.2 431.4h.01M386.8 418.8h.01M434.4 420.7h.01M431.9 433.2h.01M405.2 422.3h.01M401.5 405.9h.01M439.6 413.8h.01M417.4 401.8h.01M430.9 426.1h.01M425.9 423.3h.01M393.8 420.6h.01M414.9 400.5h.01M418.1 418.9h.01M437.1 413.3h.01M391.9 424h.01M425.2 417.8h.01M399.3 408h.01M426.3 411.9h.01M397.8 398.6h.01M420 409h.01M388.7 453.9h.01M406.9 395.8h.01M393.9 420.9h.01M434 419.5h.01M386.9 428.9h.01M400.3 428.9h.01M425.3 418.3h.01M435.8 412.4h.01M403 433.9h.01M399.3 414.2h.01M433.8 426.4h.01M392.5 416.6h.01M378.3 395.4h.01M383.3 417.9h.01M386.8 407.5h.01M417 412h.01M419.1 416.7h.01M436 411.8h.01M396.2 418.5h.01M407.9 434.6h.01M382.6 416h.01M405.9 413.7h.01M388.6 418.5h.01M422.1 421.9h.01M377.5 395.7h.01M410.5 396.9h.01M381.4 423.7h.01M439.7 412.4h.01M388.6 428.6h.01M394.6 413.4h.01M437.4 389.3h.01M400.8 409.5h.01M407.8 421.6h.01M428.8 402.7h.01M432 421.2h.01M396.4 406.3h.01M409.5 417.3h.01M423.4 410h.01M432.5 402h.01M403.5 427.3h.01M405.2 410.2h.01M422.3 400h.01M430.5 422.8h.01M399.2 419.6h.01M411.6 403h.01M417.4 430.2h.01M414.4 409.4h.01M407.3 405.6h.01M423 409.8h.01M381.9 413.4h.01M433.8 411.2h.01M400.6 414.6h.01M427.1 411.6h.01M409.8 422.4h.01M425.6 396.6h.01M409.3 412.8h.01M386.9 414.2h.01M431.9 404.2h.01M433.4 411.8h.01M389.9 434h.01M433 399.6h.01M387.3 426.5h.01M389 413.6h.01M434.5 394.2h.01M401.7 415.4h.01M398.6 408.6h.01M421.7 402.7h.01M427.1 418h.01M408 412.1h.01M389.8 407h.01M412.5 423h.01M404.6 407.5h.01M377.9 412.1h.01M395.2 399.9h.01M388.3 409.8h.01M387.7 390.6h.01M433.2 411.8h.01M388.1 421.9h.01M403.2 414.6h.01M423.2 408.1h.01M395.1 410.9h.01M439.6 418.9h.01M379.7 415.6h.01M392.7 411.6h.01M391.7 439.9h.01M393.7 412.6h.01M421.6 414.9h.01M439.5 414h.01M378 405.8h.01M426.3 416h.01M380.9 450.3h.01M424.6 407.8h.01M397.3 412.4h.01M409.9 413.2h.01M398.2 409.4h.01M434.9 426.3h.01M398.6 414.8h.01M385.8 420.6h.01M412.5 428.5h.01M383.9 419.8h.01M413.1 402.3h.01M438.6 418.4h.01M413.5 424.6h.01M416.8 415.7h.01M393 411.6h.01M379.6 407.2h.01M419.8 418.7h.01M387.8 398.7h.01M396.6 418.6h.01M433.2 409.6h.01M427.1 413.2h.01M411 400h.01M431 408.2h.01M436.8 412.6h.01M434.5 397.6h.01M440 421.1h.01M405.5 424.6h.01M384.8 422.8h.01M388.9 399.7h.01M427.1 421.9h.01M429.5 411.2h.01M388.3 429.2h.01M414.2 407.3h.01M377.1 429.1h.01M427.4 421.7h.01M416.1 417.3h.01M379.5 416.2h.01M394.2 415.4h.01M382.1 412.5h.01M384.2 421.7h.01M435.3 428.3h.01M380.5 409.7h.01M400.8 410.7h.01M403.5 418.6h.01M377.7 430.9h.01M401.4 398.5h.01M395.2 410h.01M432.6 399.9h.01M398.9 407.4h.01M392.4 422.6h.01M401.2 410.9h.01M438.9 416.7h.01M381.8 429.6h.01M403.9 417.7h.01M439.6 421.7h.01M387.3 409.9h.01M386.9 399.3h.01M398.7 413.7h.01M425.4 418.3h.01M401.1 405.4h.01M391 402h.01M387.3 412.7h.01M408 422.4h.01M420.9 416.9h.01M422.5 420.8h.01M423.9 402.8h.01M429.6 393.7h.01M399.9 422.6h.01M392.9 407.5h.01M388.6 410.5h.01M441.8 413.7h.01M445.8 424.2h.01M442 425.8h.01M446 414.3h.01M445.6 414.5h.01M448 420.1h.01M440.5 420.7h.01M444 416.8h.01M442 417.7h.01M441.4 416.8h.01M445.5 410.1h.01M442.4 420.6h.01M441.4 407.6h.01M444.6 423.1h.01M441.5 418.1h.01M441.7 423.4h.01M441.9 415.1h.01M443.2 422.6h.01M444 422.4h.01M446.7 423.7h.01M448.3 415.3h.01M441.9 419.2h.01M446 414.2h.01M447.5 419.8h.01M442.2 418.5h.01M441.8 417.7h.01M445.7 416.4h.01M445.6 416.9h.01M441.6 417.1h.01M443.2 416.5h.01M441.6 417.9h.01M441 422.2h.01M448.6 412h.01M444.6 411.2h.01M446.3 418.4h.01M446.1 429.3h.01M441.2 417.3h.01M442.2 423.6h.01M443.9 423.9h.01M441.3 421.8h.01M448.9 413.5h.01M440.9 420.1h.01M465.6 424.2h.01M459.4 414.5h.01M462 415.5h.01M459.5 419.7h.01M461.7 430.6h.01M467.4 416.4h.01M467 422.7h.01M459.9 424.6h.01M462.7 413.3h.01M468.3 417.7h.01M458.2 414.7h.01M465.3 410.2h.01M464.1 409.6h.01M466.3 422.8h.01M468.4 417.9h.01M459.5 414.6h.01M460.6 402.9h.01M462.7 427.9h.01M466.9 410.4h.01M461.3 421.1h.01M466.3 429.6h.01M467.7 420.3h.01M464.5 419.2h.01M457.8 419.4h.01M466.2 412.4h.01M457.1 427.6h.01M462.9 415.2h.01M465.3 389.1h.01M467.5 433.1h.01M457.3 428.7h.01M469.4 411.5h.01M469.2 413.4h.01M457.7 432.8h.01M462.3 408.6h.01M461.8 426.1h.01M463.6 412.4h.01M461.3 418.4h.01M462.3 442.1h.01M459.1 431.7h.01M461.9 416.5h.01M467.3 425.8h.01M462 418.5h.01M463.6 415.9h.01M461.4 428.2h.01M464.6 415h.01M465.1 417.9h.01M467.2 413h.01M467.7 409.9h.01M461.7 425.6h.01M460.8 416.3h.01M468.5 426.1h.01M459.5 413.5h.01M465.9 394.9h.01M457.1 415.9h.01M463.8 417.5h.01M464.3 419.6h.01M467.1 422.7h.01M465 418.8h.01M463.9 442.6h.01M461.2 423.2h.01M485.7 437h.01M485.1 441.1h.01M489.4 423.6h.01M484.9 429.8h.01M487.2 424h.01M494.5 428.8h.01M496.1 434.7h.01M494 423.5h.01M489.4 432.3h.01M485.3 418.6h.01M485 435.9h.01M488.8 428.9h.01M488 427.4h.01M488.1 464.2h.01M488.5 430.7h.01M487.3 423.6h.01M492.4 479.8h.01M493.6 428.1h.01M487.8 424.3h.01M493.2 429.7h.01M489.8 457.6h.01M488.7 448.5h.01M494.8 431h.01M489.8 429.4h.01M485 436.2h.01M488.8 429.9h.01M495.2 443.6h.01M485.3 422.9h.01M484.6 430h.01M494.3 425.7h.01M487.1 470.7h.01M490.5 434.8h.01M486.4 419.5h.01M488.2 439.8h.01M488.1 437.6h.01M490.9 441.1h.01M487.5 438.3h.01M489.4 437.8h.01M488 440.5h.01M490.9 435.7h.01M484.9 426.1h.01M483.9 430.6h.01M484.7 441h.01M486.9 435.5h.01M485.6 441.2h.01M493.6 449h.01M484.5 424.1h.01M485.4 426.3h.01M494.4 433.6h.01M487.9 437.4h.01M492.3 417h.01M495 439.4h.01M494.3 433.3h.01M495.7 425.7h.01M486 424h.01M492.3 417.9h.01M486.9 408.4h.01M487.4 429.5h.01M488.3 429.8h.01M495.1 422.2h.01M492.7 440.1h.01M485 430.7h.01M505.7 421.9h.01M499.1 429.8h.01M513.5 424.8h.01M502.8 421.4h.01M518.1 427.6h.01M518.1 412.2h.01M518.8 418.8h.01M515.3 434.1h.01M498.7 430h.01M511 430.3h.01M511.7 419.1h.01M519.4 425h.01M502.5 422.4h.01M518.6 418.3h.01M514 419.1h.01M515.6 413h.01M500.7 424.2h.01M517.8 413.2h.01M506.4 426.8h.01M511.3 422.1h.01M506.9 418.7h.01M503.4 424.2h.01M510.3 413.2h.01M501.9 419.6h.01M513.7 430.9h.01M515.5 430.7h.01M512.7 419.5h.01M515.3 425.2h.01M512.2 424.7h.01M512.9 421.5h.01M506.8 436.3h.01M507 424.1h.01M509.9 432.5h.01M507.7 419.2h.01M518.4 410.5h.01M510 420h.01M499.1 417.5h.01M499.4 426.6h.01M504.1 420.4h.01M520 415h.01M498.5 454.5h.01M517.6 421h.01M500.3 420.9h.01M506.2 420.7h.01M507.7 420.9h.01M511.1 417.6h.01M519.7 415.8h.01M508.1 429h.01M510.7 417.5h.01M498.9 421.9h.01M510.6 419.2h.01M509.5 428.7h.01M502.1 424.5h.01M501.9 414.2h.01M498.5 430.1h.01M504.6 422.4h.01M501.6 424.5h.01M520.4 416.4h.01M516.2 419.7h.01M512.4 430h.01M498.4 425.5h.01M513.7 426.6h.01M502.8 436.6h.01M518.4 420.4h.01M520.2 423.6h.01M513.1 424.4h.01M510.1 412.6h.01M516.6 431.6h.01M507.9 414.3h.01M508.3 428.4h.01M517 420.9h.01M502.3 418.4h.01M503 427.6h.01M515.2 416.9h.01M503.1 424.7h.01M497.6 424.7h.01M509.6 419.7h.01M497.8 423.5h.01M517.6 420.4h.01M511 417.2h.01M506.6 425.4h.01M517.7 417.7h.01M515.7 419.7h.01M512.8 421.4h.01M514.8 419.3h.01M511.1 411.1h.01M497.7 411.1h.01M497.1 417.6h.01M515.4 419.3h.01M498.2 422.3h.01M512.5 421.5h.01M500.9 432.9h.01M510.9 432h.01M505 427.7h.01M515.8 416.3h.01M498.2 424.7h.01M499.8 424.7h.01M504.3 426.8h.01M497.7 419.5h.01M499.2 423.4h.01M500.4 421.5h.01M520.1 419.9h.01M518.4 420.8h.01M515.7 408.7h.01M500.3 429.8h.01M503.2 417.9h.01M508 418.3h.01M520.3 418.1h.01M502.8 417.9h.01M506.2 427.3h.01M624.4 419h.01M528.8 422.3h.01M620.5 413.8h.01M641.7 413.8h.01M638.4 419.9h.01M555.4 407.1h.01M631.3 412.3h.01M614.3 411.7h.01M533.1 414.4h.01M664.6 409.4h.01M544.7 409.1h.01M651.7 415.4h.01M643.9 420.1h.01M521.1 417.8h.01M632.1 418.8h.01M601 407.9h.01M536.8 420.5h.01M594.1 402.3h.01M648.6 413.5h.01M673.2 409.3h.01M650.4 417.2h.01M623.6 403.3h.01M654.6 418.5h.01M606 407h.01M628.2 424.7h.01M534.3 421.8h.01M613.9 406.4h.01M549.7 405.1h.01M622.7 401.6h.01M576.9 399h.01M585 388.4h.01M559.8 404.5h.01M597.8 410.6h.01M657.2 416.4h.01M535.2 416.8h.01M581.4 381.3h.01M659.3 402.6h.01M665.9 404.5h.01M661.5 415.2h.01M567.6 404.9h.01M590.9 404.1h.01M661.5 405.2h.01M589.5 398.3h.01M654.6 407.8h.01M548.3 403.3h.01M588.4 397h.01M650.2 408.2h.01M585.4 391.7h.01M642.1 396.3h.01M589.4 416h.01M660.1 403.8h.01M604.2 399.6h.01M658.8 415.9h.01M678 417.6h.01M640 421.3h.01M562.9 392.4h.01M539.1 420.9h.01M657.8 406.6h.01M592.7 394h.01M629.1 409.9h.01M603.1 396.7h.01M626.7 413.1h.01M570.5 391.9h.01M538.2 430.3h.01M648.9 408.7h.01M577.9 387.7h.01M540.3 410.5h.01M562.1 393.5h.01M608.4 411.6h.01M646.9 416.1h.01M539.7 411.1h.01M615.5 416.4h.01M544.2 427.2h.01M561.9 400.1h.01M530.4 401.4h.01M570.7 416.1h.01M536.9 403.4h.01M619.9 399.5h.01M642.9 462.5h.01M646.1 409.6h.01M662.7 438.7h.01M577.1 397.8h.01M668.7 429.3h.01M669.2 402.2h.01M663.9 419.8h.01M619.5 380.3h.01M631 409.1h.01M640 409h.01M525 412.7h.01M590.4 403.1h.01M584.1 387.4h.01M564.7 404.8h.01M566.5 404.1h.01M551.6 401.1h.01M656 420.8h.01M577.4 403.1h.01M633.9 414h.01M553.6 407h.01M569.4 400.8h.01M527.8 427.8h.01M608 404.9h.01M676.8 388.8h.01M532.4 422.5h.01M591.6 453.4h.01M618.3 411.7h.01M587.2 389.3h.01M636.1 417.5h.01M565 385h.01M604.8 401.6h.01M534.1 418.6h.01M538.9 420.6h.01M636 409.4h.01M570.1 403.7h.01M624.2 395.6h.01M589.8 398.1h.01M652.2 407h.01M601.9 402.9h.01M561.6 397.2h.01M670.5 410.1h.01M597.7 413.7h.01M654.6 415.2h.01M671.6 415.8h.01M554.4 393.5h.01M536.1 411.3h.01M606 410h.01M597.3 416.2h.01M616.4 416.2h.01M660.2 409.2h.01M613.3 413.3h.01M576.4 412.6h.01M586.4 387.4h.01M585 403.5h.01M642 429.8h.01M664.7 410.2h.01M554.3 409.5h.01M529.8 429.4h.01M538.5 401.9h.01M610.5 427.9h.01M549.1 418.4h.01M586 391.2h.01M546.4 400h.01M665.9 405.9h.01M620.1 418.2h.01M667.5 401h.01M614.6 416.2h.01M526.7 415.3h.01M628.2 422.5h.01M590 397.6h.01M653.4 418h.01M650.8 419.2h.01M638.1 415.6h.01M611.7 417.1h.01M582.7 406.8h.01M667 408.2h.01M666.6 414.5h.01M530.8 421.8h.01M625.1 399h.01M525 408.6h.01M666.5 412.6h.01M619.1 401.3h.01M625.5 409.1h.01M620.1 411.2h.01M641.4 416h.01M616.1 409.8h.01M668.3 417.6h.01M530.6 405h.01M571.1 404.4h.01M661.9 415.7h.01M573 391.9h.01M602.9 405.8h.01M676.2 398.1h.01M605.2 410.3h.01M549.7 399.5h.01M643.5 419.8h.01M597.6 440.2h.01M549.6 412.2h.01M625.1 410h.01M656.5 410.6h.01M571.6 402.5h.01M612.2 410.1h.01M554.3 400.1h.01M535.1 468h.01M544.7 403.5h.01M586.5 400.5h.01M529.9 423.8h.01M539.4 411.3h.01M639.1 416.1h.01M668.5 403.3h.01M589.1 396.9h.01M649.5 416.7h.01M661.1 417.1h.01M591.3 411h.01M612.5 402.3h.01M564.4 413.4h.01M557.5 406.8h.01M654.7 412.8h.01M521.3 418.3h.01M643 425.5h.01M539.6 404.1h.01M620.9 407.8h.01M537.5 414.3h.01M659.1 410.1h.01M625.5 414.7h.01M627.1 406.8h.01M617 410.8h.01M585.5 388.7h.01M632.4 407.8h.01M595.7 408.5h.01M561.3 408.7h.01M649.4 418h.01M556.1 398.7h.01M601.9 412.6h.01M634.1 420.9h.01M639.6 406.7h.01M676.5 401.1h.01M620.1 409.6h.01M545.2 410.2h.01M571.4 391.9h.01M577.8 411.8h.01M634.6 410.3h.01M626.7 408.9h.01M647.9 402h.01M591.1 401.4h.01M550.8 403.4h.01M642.9 411.9h.01M625.7 415.8h.01M523.1 376.2h.01M653.1 403.2h.01M525.3 423.1h.01M669.9 414h.01M634.4 405.6h.01M607.6 394.1h.01M604.5 398.8h.01M656.4 413.1h.01M660.4 409.8h.01M567.8 393.2h.01M663.6 409.3h.01M623.4 416.4h.01M617.4 418.5h.01M586.7 428.7h.01M547.1 410.4h.01M670 414.8h.01M586.3 396.7h.01M555.1 397.8h.01M567.2 399h.01M578.1 407.8h.01M540.5 403.1h.01M544.8 404.4h.01M565.4 395.3h.01M611 392.5h.01M531.9 422.6h.01M655.5 410.8h.01M564.6 430h.01M628.3 416.2h.01M544.7 398.6h.01M617.8 411.8h.01M573.1 399h.01M590.1 407.3h.01M626.9 418.4h.01M596.4 399.3h.01M657.1 415.9h.01M654.8 402.2h.01M615.1 390.6h.01M548.6 413.7h.01M588.9 409.9h.01M532.9 423.9h.01M579.1 393.3h.01M639.9 417.2h.01M667.8 410.7h.01M642.2 408.1h.01M587.4 395.4h.01M648.5 407.9h.01M561.9 408.5h.01M676.4 413.6h.01M553.3 403.1h.01M591.6 388.6h.01M631.9 410.3h.01M598.3 388.9h.01M652.3 407.7h.01M579.1 392.7h.01M557.8 418.5h.01M595.6 389.6h.01M572.6 402.8h.01M588.5 397.6h.01M616.8 410.2h.01M522.5 410.7h.01M607.5 401.8h.01M542.9 407.9h.01M521.1 430.8h.01M658.2 403.1h.01M566 404.5h.01M532.6 427.7h.01M563.4 395.2h.01M521.9 414.8h.01M646.1 433.3h.01M532.9 402.2h.01M614.4 405.1h.01M632.7 407.3h.01M667.3 413.6h.01M544.4 414.6h.01M667.3 413.8h.01M624.5 410.1h.01M538.8 413.5h.01M564.7 410.5h.01M544.1 397.8h.01M575.1 397.8h.01M621 401.3h.01M546.9 410.7h.01M644.1 424.1h.01M561.3 411.5h.01M600.2 405.7h.01M544.5 412.6h.01M564.7 394.7h.01M666.2 400.8h.01M591 408.2h.01M651.9 418.2h.01M539.2 404.4h.01M628.9 409h.01M522.7 416.7h.01M540.4 409.7h.01M666.2 415.7h.01M642.1 420.8h.01M598.5 381.6h.01M522.9 414h.01M578.1 386.2h.01M576.1 395h.01M524.4 428.7h.01M670.7 409.3h.01M655.3 398.6h.01M606.4 397.3h.01M525.8 422.9h.01M633.6 412.2h.01M653.6 411.7h.01M625.7 400.6h.01M622.7 413.7h.01M662.5 409.3h.01M522.1 426.8h.01M668.3 411.5h.01M610.8 418.9h.01M541.8 407.6h.01M581.4 401.4h.01M638.1 413.6h.01M643.8 425.9h.01M587 410.9h.01M657.8 411.6h.01M574 418.3h.01M591.9 387.1h.01M610.2 408.4h.01M531.8 413.9h.01M551.6 410.9h.01M653.7 409.8h.01M536 414.5h.01M581.9 400.7h.01M600.1 410.2h.01M591.4 406h.01M575.9 392.9h.01M602.5 397.4h.01M560.3 405.8h.01M636.7 414.6h.01M573.1 394.7h.01M667.5 398h.01M587.4 368.9h.01M615.1 397h.01M646.6 396.4h.01M632.9 426h.01M604.8 399.6h.01M585.9 398.7h.01M574.1 410h.01M555.1 403.6h.01M615.9 399.5h.01M555.7 395.3h.01M576.4 396.4h.01M556.2 411.3h.01M668.9 403.8h.01M645.1 417.6h.01M580.3 400.5h.01M550.3 404.5h.01M661.7 406.8h.01M576.8 403.1h.01M572.8 401.6h.01M596.3 406.7h.01M587.5 411.1h.01M588.7 407.4h.01M620.5 414.2h.01M599.3 400.7h.01M622.7 396.6h.01M624.6 416.1h.01M548.3 411h.01M597.3 444.9h.01M612.4 410.4h.01M609.9 405.9h.01M672.5 405.3h.01M533.8 425.1h.01M577.6 411.9h.01M567.2 407h.01M648.9 414h.01M559.1 395.7h.01M589.3 402.3h.01M654.2 404.5h.01M521.8 424.1h.01M631.8 409h.01M631.6 413.9h.01M576 393.3h.01M528.3 430.7h.01M621.2 404.6h.01M647.1 440.5h.01M600.2 404.5h.01M581.6 403.1h.01M594.3 408.3h.01M560.6 399.3h.01M602.4 401h.01M524.9 406.6h.01M533.6 446.8h.01M643.9 442.6h.01M524.3 426.8h.01M587.8 385.2h.01M582.4 396.9h.01M549.2 418.8h.01M525.7 418.1h.01M601.9 411.3h.01M622.3 412.3h.01M628.1 407h.01M653.8 424h.01M585 394.6h.01M549.1 394.2h.01M617 409.4h.01M539.4 410.6h.01M570.2 405.6h.01M616.9 409.5h.01M535 420.5h.01M564.5 410.4h.01M532.9 404.6h.01M602.5 402.4h.01M573.4 405.6h.01M606 414.2h.01M555.8 403.4h.01M589.2 390.7h.01M556.6 397.9h.01M599.3 424h.01M671.5 400.8h.01M651.7 406h.01M612.2 406.5h.01M551.2 404.5h.01M533.2 442.4h.01M559.5 416.1h.01M541.3 415.1h.01M565.8 397.8h.01M549 403h.01M612.5 405.7h.01M581.1 389.2h.01M666.4 413h.01M602.3 402.2h.01M676.9 407h.01M665.5 407.8h.01M613.4 392.1h.01M585.2 400.8h.01M601 397.5h.01M558.4 406.3h.01M555.5 401h.01M661.5 415.8h.01M617.2 410.7h.01M628.3 410.7h.01M645 414.1h.01M523.2 411.1h.01M658.7 422.1h.01M527.3 413.5h.01M629 410h.01M534.4 413.4h.01M637.9 418.7h.01M542 424.2h.01M585.9 389.3h.01M566.2 401.5h.01M624.7 417.2h.01M578 400.6h.01M627.9 413.1h.01M669 395.4h.01M664.2 393.4h.01M589.5 402.5h.01M593.4 408.4h.01M554 396.8h.01M531.6 414.1h.01M617.5 394.7h.01M618.4 420.2h.01M527.1 412.9h.01M529.7 406.4h.01M549.2 410.7h.01M577.9 395.6h.01M582.4 395.7h.01M577.9 402.9h.01M522.5 407.7h.01M587.3 401.5h.01M590.4 399.6h.01M580.7 386.7h.01M536.4 384.9h.01M541.3 398.2h.01M630.1 410.5h.01M658.5 414.7h.01M595.3 395.6h.01M605.6 406.8h.01M627 405.2h.01M561.5 391.7h.01M593.4 393.3h.01M575.5 387.6h.01M624.5 408.8h.01M626.5 409h.01M564.9 405.4h.01M531.4 410.7h.01M553.7 415.4h.01M655.5 401.5h.01M678.1 417.4h.01M639.7 408.7h.01M643.8 420.5h.01M609.2 410.2h.01M576.1 386.8h.01M617.4 409.4h.01M541.3 412.1h.01M588.3 392.9h.01M672 428.7h.01M588.5 394.4h.01M636.3 412.9h.01M581.2 397.3h.01M634.1 452.9h.01M531.7 419.7h.01M529.3 406h.01M646.6 408.8h.01M574.3 394.3h.01M670.2 405.4h.01M546.7 418.9h.01M602.2 412.2h.01M543.5 418.3h.01M660.9 416.9h.01M558.6 394.2h.01M586.7 394.7h.01M550.1 422.9h.01M618.6 402.8h.01M627.5 402.1h.01M562.5 404.1h.01M669.2 397.1h.01M577.5 403.5h.01M542.1 415.3h.01M557 395.4h.01M618.1 416.5h.01M660.5 418.9h.01M641.1 413.9h.01M644.9 427.7h.01M644.8 411.5h.01M673.2 403h.01M554.3 406.7h.01M600.2 396.6h.01M566.5 402.4h.01M634.5 420.1h.01M653.7 409.2h.01M528.8 423.6h.01M583.7 391.7h.01M666.4 414.3h.01M579 396.1h.01M628.7 420.8h.01M607.7 402.8h.01M591.4 395.4h.01M667.2 405.5h.01M562.3 422.4h.01M533.3 418h.01M677.5 406.8h.01M602 403.4h.01M561 396.2h.01M579 389.4h.01M630.8 408.3h.01M570 393.2h.01M540.9 408.8h.01M674.4 405.6h.01M533.9 405.6h.01M644.9 422.1h.01M563.1 399.7h.01M539.6 425.8h.01M541.7 403.7h.01M600.4 397.8h.01M666 392.5h.01M594.5 419.1h.01M525.7 424.9h.01M636 437.6h.01M542 412.4h.01M527.7 419.9h.01M542.8 403.4h.01M575 385.8h.01M526.2 411.8h.01M611.5 406.7h.01M525.7 416.5h.01M584.3 390.6h.01M542.4 420.9h.01M584.2 416.9h.01M553.1 422.8h.01M598 403.4h.01M659.6 408h.01M642.4 423.6h.01M540.9 405h.01M533.6 409.2h.01M526.5 412.9h.01M532.1 426.7h.01M574.8 406.2h.01M525.8 422.1h.01M570.8 397.6h.01M578.6 395.3h.01M570.7 415.5h.01M617.8 404.7h.01M572.7 402.2h.01M559.2 401.9h.01M551.8 412.2h.01M621 423.1h.01M544.1 399h.01M569 398.9h.01M555.9 408.1h.01M593.3 401.9h.01M522.5 422.7h.01M632.7 425.4h.01M623.4 429.5h.01M655.5 414.8h.01M601.3 405.3h.01M667.9 409.2h.01M676.8 409.8h.01M590.9 391.2h.01M528.6 425.6h.01M641.3 430.4h.01M526 445.3h.01M546.5 417h.01M610.8 404.5h.01M580.5 397.7h.01M650.9 442h.01M642.8 409.3h.01M540.1 431h.01M602.6 401.6h.01M655.9 406.5h.01M643.3 422.3h.01M547.3 393.5h.01M608.8 395.3h.01M625 409.3h.01M552 402.8h.01M604.2 414h.01M592.6 392.4h.01M592.7 400.6h.01M624 406.5h.01M615.4 402.2h.01M524.2 411.8h.01M579.2 399.5h.01M530 418.5h.01M579.4 379.9h.01M583.9 391.8h.01M589.4 396.6h.01M564.6 396.6h.01M632.8 409h.01M647.5 402.6h.01M663 398.1h.01M595.7 400.3h.01M667.9 419.7h.01M572.7 404h.01M677.8 415.9h.01M551 411.2h.01M617.6 415.2h.01M633.1 413.7h.01M621 424.6h.01M665 410.1h.01M635.2 391h.01M660.7 409.2h.01M634.7 416.6h.01M568.7 396.2h.01M598.2 404.4h.01M618.2 410.5h.01M531.9 411.1h.01M538 408.7h.01M666.6 412h.01M659 407.4h.01M589.1 399.9h.01M667.3 394.6h.01M580 385.7h.01M571.7 396.5h.01M595.8 399.1h.01M531.6 410.4h.01M588.6 395.2h.01M627.5 420.3h.01M665.2 403.6h.01M527.6 419.5h.01M534.2 419.1h.01M573.7 394h.01M630.2 407.9h.01M602.4 404.1h.01M666.2 391.5h.01M608 400.4h.01M627.5 413.7h.01M640.4 414.8h.01M677.6 409.2h.01M624.6 405.9h.01M611 410.8h.01M579.4 398.2h.01M665.8 398.9h.01M546.5 402.6h.01M622.4 408.6h.01M599.7 412.9h.01M571.9 401.4h.01M607.8 405.7h.01M661.6 409.3h.01M605.7 404.1h.01M646.4 411.7h.01M599.6 450.5h.01M548.9 395.2h.01M595.2 403h.01M566.8 403.2h.01M560.3 416.1h.01M609.7 404.3h.01M652.7 421.7h.01M559.6 411.8h.01M641.5 419.5h.01M647.3 402.4h.01M662.1 401.5h.01M581.5 393.3h.01M561.8 401.2h.01M601.8 410.5h.01M617.7 405h.01M603.1 391.4h.01M526 410.9h.01M531.9 416.1h.01M676.2 405.8h.01M648.9 414.2h.01M578.6 398.1h.01M664.9 417.7h.01M621.1 443.3h.01M642.5 444h.01M649 445.5h.01M634 452h.01M643 451.3h.01M650.2 450.8h.01M654.5 455h.01M571.3 444h.01M488.3 471.7h.01M492 461h.01M413 466h.01M571 467h.01M530 387h.01M630.5 334.5h.01M630.7 247.7h.01M642.7 251h.01M573 263h.01M572.5 267.4h.01M642 372.5h.01M573.5 359h.01" fill="none" stroke="#002060" stroke-width="3.50" stroke-linecap="round"/>
<path d="M123.5 68.7v-3.3M143.3 68.7v-3.3M163.1 68.7v-3.3M183 68.7v-3.3M202.8 68.7v-3.3M222.6 68.7v-3.3M242.4 68.7v-3.3M262.2 68.7v-3.3M282.1 68.7v-3.3M301.9 68.7v-3.3M321.7 68.7v-3.3M341.5 68.7v-3.3M361.4 68.7v-3.3M381.2 68.7v-3.3M401 68.7v-3.3M420.8 68.7v-3.3M440.6 68.7v-3.3M460.5 68.7v-3.3M480.3 68.7v-3.3M500.1 68.7v-3.3M519.9 68.7v-3.3M539.8 68.7v-3.3M559.6 68.7v-3.3M579.4 68.7v-3.3M599.2 68.7v-3.3M619 68.7v-3.3M638.9 68.7v-3.3M658.7 68.7v-3.3M678.5 68.7v-3.3" stroke="#000" stroke-width="0.8" fill="none"/>
<path d="M123.5 485.2v3.3M143.3 485.2v3.3M163.1 485.2v3.3M183 485.2v3.3M202.8 485.2v3.3M222.6 485.2v3.3M242.4 485.2v3.3M262.2 485.2v3.3M282.1 485.2v3.3M301.9 485.2v3.3M321.7 485.2v3.3M341.5 485.2v3.3M361.4 485.2v3.3M381.2 485.2v3.3M401 485.2v3.3M420.8 485.2v3.3M440.6 485.2v3.3M460.5 485.2v3.3M480.3 485.2v3.3M500.1 485.2v3.3M519.9 485.2v3.3M539.8 485.2v3.3M559.6 485.2v3.3M579.4 485.2v3.3M599.2 485.2v3.3M619 485.2v3.3M638.9 485.2v3.3M658.7 485.2v3.3M678.5 485.2v3.3" stroke="#000" stroke-width="0.8" fill="none"/>
<path d="M123.5 68.7h-3.3M678.5 68.7h3.3M123.5 110.3h-3.3M678.5 110.3h3.3M123.5 152h-3.3M678.5 152h3.3M123.5 193.6h-3.3M678.5 193.6h3.3M123.5 235.3h-3.3M678.5 235.3h3.3M123.5 276.9h-3.3M678.5 276.9h3.3M123.5 318.6h-3.3M678.5 318.6h3.3M123.5 360.2h-3.3M678.5 360.2h3.3M123.5 401.9h-3.3M678.5 401.9h3.3M123.5 443.5h-3.3M678.5 443.5h3.3M123.5 485.2h-3.3M678.5 485.2h3.3" stroke="#000" stroke-width="0.8" fill="none"/>
<rect x="123.5" y="68.7" width="555" height="416.5" fill="none" stroke="#000" stroke-width="2"/>
<path d="M202.6 160V227.3" stroke="#000" stroke-width="4" fill="none"/>
<path d="M202.6 152.6L211.9 170.4L202.6 161.9L193.3 170.4ZM202.6 234.7L211.9 216.9L202.6 225.4L193.3 216.9Z" fill="#000"/>
<text x="213.2" y="202.5" font-size="22">2 cm</text>
<rect x="543.2" y="72.5" width="131.9" height="75.6" fill="#fff" stroke="#000" stroke-width="1.5"/>
<circle cx="554.9" cy="85.1" r="3.65" fill="#8ccb4c"/>
<text x="568.2" y="90.4" font-size="14.95">960725 – J922</text>
<circle cx="554.9" cy="101.2" r="3.65" fill="#00aeef"/>
<text x="568.2" y="106.6" font-size="14.95">960725 – K926</text>
<circle cx="554.9" cy="117.4" r="3.65" fill="#0072bc"/>
<text x="568.2" y="122.7" font-size="14.95">960725 – J923</text>
<circle cx="554.9" cy="133.5" r="3.65" fill="#002060"/>
<text x="568.2" y="138.9" font-size="14.95">J924 – J923</text>
<rect x="161.1" y="40" width="180.2" height="24.9" fill="#d9d9d9"/>
<rect x="363.3" y="40" width="190.1" height="24.9" fill="#d9d9d9"/>
<rect x="573.2" y="40" width="102.6" height="24.9" fill="#d9d9d9"/>
<path d="M440.6 40V64.9M500.7 40V64.9" stroke="#dedede" stroke-width="0.6" fill="none"/>
<text x="251.2" y="57.7" font-size="14.6" text-anchor="middle">Stage I</text>
<text x="406.7" y="57.7" font-size="14.6" text-anchor="middle">II</text>
<text x="475.9" y="57.7" font-size="14.6" text-anchor="middle">III</text>
<text x="527.3" y="57.7" font-size="14.6" text-anchor="middle">IV</text>
<text x="624.3" y="57.7" font-size="14.6" text-anchor="middle">V</text>
<path d="M155.9 34.7V16" stroke="#ff0000" stroke-width="4" fill="none"/>
<path d="M155.9 -1.2L160.6 17.3H151.2Z" fill="#ff0000"/>
<circle cx="160.3" cy="34.5" r="3.6" fill="#ff00ff"/>
<path d="M425.5 34.6H447.4M523.7 34.6H549" stroke="#ff00ff" stroke-width="6.1" fill="none"/>
<circle cx="425.5" cy="34.6" r="3.6" fill="#ff00ff"/>
<circle cx="447.4" cy="34.6" r="3.6" fill="#ff00ff"/>
<circle cx="523.7" cy="34.6" r="3.6" fill="#ff00ff"/>
<circle cx="549" cy="34.6" r="3.6" fill="#ff00ff"/>
<circle cx="572.3" cy="34.5" r="3.5" fill="#ff00ff"/>
<path d="M437.8 34.7V16" stroke="#ff0000" stroke-width="3.4" fill="none"/>
<path d="M437.8 -1.2L442.5 17.3H433.1Z" fill="#ff0000"/>
<path d="M444.1 34.7V16" stroke="#ff0000" stroke-width="3.6" fill="none"/>
<path d="M444.1 -1.2L448.8 17.3H439.4Z" fill="#ff0000"/>
<path d="M521.9 34.7V16" stroke="#ff0000" stroke-width="3.4" fill="none"/>
<path d="M521.9 -1.2L526.6 17.3H517.2Z" fill="#ff0000"/>
<path d="M527 34.7V16" stroke="#ff0000" stroke-width="3.6" fill="none"/>
<path d="M527 -1.2L531.7 17.3H522.3Z" fill="#ff0000"/>
<text x="0.2" y="91.7" font-size="20.4">(a)</text>
<text transform="translate(108.3 277.4) rotate(-90)" font-size="19.7" text-anchor="middle">Slope Distance [cm]</text>
<path d="M202.5 503V641.6M282.5 503V641.6M361.9 503V641.6M440.5 503V641.6M519.5 503V641.6M599.5 503V641.6" stroke="#0c0c0c" stroke-width="0.7" fill="none"/>
<path d="M123.70 555.67h5.35V611.11h-5.35ZM130.31 566.76h5.35V630.51h-5.35ZM136.91 539.04h5.35V613.88h-5.35ZM143.52 569.53h5.35V616.65h-5.35ZM150.13 514.09h5.35V633.28h-5.35ZM156.74 594.48h5.35V619.42h-5.35ZM163.34 622.20h5.35V627.74h-5.35ZM169.95 633.56h5.35V636.33h-5.35ZM189.77 633.42h5.35V636.19h-5.35ZM196.38 616.65h5.35V638.83h-5.35ZM209.59 638.97h5.35V640.35h-5.35ZM216.20 639.52h5.35V640.49h-5.35ZM222.81 635.92h5.35V639.52h-5.35ZM229.41 636.19h5.35V638.97h-5.35ZM236.02 635.92h5.35V639.52h-5.35ZM242.63 633.42h5.35V636.19h-5.35ZM249.24 636.19h5.35V638.97h-5.35ZM255.84 630.65h5.35V638.69h-5.35ZM262.45 627.88h5.35V639.52h-5.35ZM269.06 635.92h5.35V640.08h-5.35ZM275.66 635.92h5.35V638.69h-5.35ZM282.27 633.42h5.35V639.52h-5.35ZM288.88 636.06h5.35V638.55h-5.35ZM295.49 636.06h5.35V638.55h-5.35ZM302.09 633.28h5.35V638.55h-5.35ZM308.70 627.74h5.35V638.55h-5.35ZM315.31 630.51h5.35V639.94h-5.35ZM321.91 630.51h5.35V638.55h-5.35ZM328.52 630.51h5.35V638.55h-5.35ZM335.13 627.74h5.35V638.55h-5.35ZM341.74 630.51h5.35V635.78h-5.35ZM348.34 630.51h5.35V638.55h-5.35ZM354.95 627.74h5.35V638.55h-5.35ZM361.56 633.28h5.35V635.78h-5.35ZM368.16 636.06h5.35V639.11h-5.35ZM374.77 633.28h5.35V638.55h-5.35ZM381.38 627.74h5.35V635.50h-5.35ZM387.99 633.28h5.35V638.55h-5.35ZM394.59 630.51h5.35V639.66h-5.35ZM401.20 630.51h5.35V639.66h-5.35ZM407.81 597.25h5.35V638.55h-5.35ZM414.41 594.48h5.35V633.01h-5.35ZM421.02 605.56h5.35V630.23h-5.35ZM427.63 611.11h5.35V635.78h-5.35ZM434.24 605.56h5.35V638.55h-5.35ZM440.84 580.62h5.35V640.49h-5.35ZM447.45 627.74h5.35V638.55h-5.35ZM454.06 630.51h5.35V639.66h-5.35ZM460.66 613.88h5.35V638.55h-5.35ZM467.27 633.28h5.35V638.55h-5.35ZM473.88 633.28h5.35V638.27h-5.35ZM480.49 633.28h5.35V638.27h-5.35ZM487.09 630.51h5.35V638.27h-5.35ZM493.70 636.06h5.35V639.11h-5.35ZM500.31 636.06h5.35V639.11h-5.35ZM506.91 624.97h5.35V636.06h-5.35ZM513.52 622.20h5.35V639.11h-5.35ZM520.13 594.20h5.35V636.06h-5.35ZM526.74 594.20h5.35V633.28h-5.35ZM533.34 583.39h5.35V621.78h-5.35ZM539.95 552.90h5.35V616.10h-5.35ZM546.56 547.07h5.35V621.78h-5.35ZM553.16 602.79h5.35V630.23h-5.35ZM559.77 622.20h5.35V633.28h-5.35ZM566.38 627.74h5.35V636.06h-5.35ZM572.99 630.51h5.35V639.11h-5.35ZM579.59 633.28h5.35V639.94h-5.35ZM586.20 636.06h5.35V639.94h-5.35ZM592.81 636.06h5.35V639.94h-5.35ZM599.41 638.83h5.35V640.63h-5.35ZM606.02 639.38h5.35V640.77h-5.35ZM612.63 636.06h5.35V639.94h-5.35ZM619.24 636.06h5.35V639.94h-5.35ZM625.84 639.66h5.35V640.77h-5.35ZM632.45 639.94h5.35V640.91h-5.35ZM639.06 639.94h5.35V640.91h-5.35ZM645.66 640.21h5.35V640.91h-5.35ZM658.88 639.94h5.35V640.91h-5.35ZM665.49 640.21h5.35V640.91h-5.35Z" fill="#999"/>
<rect x="161.1" y="506.4" width="180.2" height="24.6" fill="#d9d9d9"/>
<rect x="363.3" y="506.4" width="190.1" height="24.6" fill="#d9d9d9"/>
<rect x="573.2" y="506.4" width="102.6" height="24.6" fill="#d9d9d9"/>
<path d="M440.6 506.4V531M500.7 506.4V531" stroke="#dedede" stroke-width="0.6" fill="none"/>
<text x="251.2" y="523.8" font-size="14.6" text-anchor="middle">Stage I</text>
<text x="406.7" y="523.8" font-size="14.6" text-anchor="middle">II</text>
<text x="475.9" y="523.8" font-size="14.6" text-anchor="middle">III</text>
<text x="527.3" y="523.8" font-size="14.6" text-anchor="middle">IV</text>
<text x="624.3" y="523.8" font-size="14.6" text-anchor="middle">V</text>
<path d="M123.5 503v-3.3M143.3 503v-3.3M163.1 503v-3.3M183 503v-3.3M202.8 503v-3.3M222.6 503v-3.3M242.4 503v-3.3M262.2 503v-3.3M282.1 503v-3.3M301.9 503v-3.3M321.7 503v-3.3M341.5 503v-3.3M361.4 503v-3.3M381.2 503v-3.3M401 503v-3.3M420.8 503v-3.3M440.6 503v-3.3M460.5 503v-3.3M480.3 503v-3.3M500.1 503v-3.3M519.9 503v-3.3M539.8 503v-3.3M559.6 503v-3.3M579.4 503v-3.3M599.2 503v-3.3M619 503v-3.3M638.9 503v-3.3M658.7 503v-3.3M678.5 503v-3.3" stroke="#000" stroke-width="0.8" fill="none"/>
<path d="M123.5 641.6v3.3M143.3 641.6v3.3M163.1 641.6v3.3M183 641.6v3.3M202.8 641.6v3.3M222.6 641.6v3.3M242.4 641.6v3.3M262.2 641.6v3.3M282.1 641.6v3.3M301.9 641.6v3.3M321.7 641.6v3.3M341.5 641.6v3.3M361.4 641.6v3.3M381.2 641.6v3.3M401 641.6v3.3M420.8 641.6v3.3M440.6 641.6v3.3M460.5 641.6v3.3M480.3 641.6v3.3M500.1 641.6v3.3M519.9 641.6v3.3M539.8 641.6v3.3M559.6 641.6v3.3M579.4 641.6v3.3M599.2 641.6v3.3M619 641.6v3.3M638.9 641.6v3.3M658.7 641.6v3.3M678.5 641.6v3.3" stroke="#000" stroke-width="0.8" fill="none"/>
<path d="M123.5 641.6h-6M678.5 641.6h6M123.5 613.9h-3.3M678.5 613.9h3.3M123.5 586.2h-6M678.5 586.2h6M123.5 558.4h-3.3M678.5 558.4h3.3M123.5 530.7h-6M678.5 530.7h6M123.5 503h-3.3M678.5 503h3.3" stroke="#000" stroke-width="0.8" fill="none"/>
<rect x="123.5" y="503" width="555" height="138.6" fill="none" stroke="#000" stroke-width="2"/>
<text x="110.9" y="646.8" font-size="15" letter-spacing="-0.35" text-anchor="end">0</text>
<text x="110.9" y="591.4" font-size="15" letter-spacing="-0.35" text-anchor="end">2000</text>
<text x="110.9" y="535.9" font-size="15" letter-spacing="-0.35" text-anchor="end">4000</text>
<text x="0.2" y="522.4" font-size="20.4">(b)</text>
<text transform="translate(69.3 572.3) rotate(-90)" font-size="19.7" text-anchor="middle">SO<tspan font-size="13" dy="4.6">2</tspan><tspan dy="-4.6"> [tons/day]</tspan></text>
<path d="M202.5 658.9V797.9M282.5 658.9V797.9M361.9 658.9V797.9M440.5 658.9V797.9M519.5 658.9V797.9M599.5 658.9V797.9" stroke="#0c0c0c" stroke-width="0.7" fill="none"/>
<path d="M123.55 795.61h4.95V797.9h-4.95ZM130.16 796.86h4.95V797.9h-4.95ZM136.76 793.94h4.95V797.9h-4.95ZM143.37 794.22h4.95V797.9h-4.95ZM149.98 759.88h4.95V797.9h-4.95ZM156.59 782.05h4.95V797.9h-4.95ZM163.19 787.34h4.95V797.9h-4.95ZM169.80 779.00h4.95V797.9h-4.95ZM176.41 793.10h4.95V797.9h-4.95ZM183.01 797.07h4.95V797.9h-4.95ZM189.62 797.07h4.95V797.9h-4.95ZM196.23 797.20h4.95V797.9h-4.95ZM202.84 797.34h4.95V797.9h-4.95ZM209.44 797.34h4.95V797.9h-4.95ZM216.05 797.34h4.95V797.9h-4.95ZM222.66 797.34h4.95V797.9h-4.95ZM229.26 797.20h4.95V797.9h-4.95ZM235.87 796.16h4.95V797.9h-4.95ZM242.48 796.16h4.95V797.9h-4.95ZM249.09 796.51h4.95V797.9h-4.95ZM255.69 795.12h4.95V797.9h-4.95ZM262.30 793.10h4.95V797.9h-4.95ZM268.91 790.95h4.95V797.9h-4.95ZM275.51 792.34h4.95V797.9h-4.95ZM282.12 794.22h4.95V797.9h-4.95ZM288.73 784.56h4.95V797.9h-4.95ZM295.34 793.10h4.95V797.9h-4.95ZM301.94 795.12h4.95V797.9h-4.95ZM308.55 795.61h4.95V797.9h-4.95ZM315.16 794.22h4.95V797.9h-4.95ZM321.76 795.12h4.95V797.9h-4.95ZM328.37 795.12h4.95V797.9h-4.95ZM334.98 795.33h4.95V797.9h-4.95ZM341.59 788.38h4.95V797.9h-4.95ZM348.19 764.26h4.95V797.9h-4.95ZM354.80 775.10h4.95V797.9h-4.95ZM361.41 777.33h4.95V797.9h-4.95ZM368.01 777.61h4.95V797.9h-4.95ZM374.62 772.32h4.95V797.9h-4.95ZM381.23 777.33h4.95V797.9h-4.95ZM387.84 779.55h4.95V797.9h-4.95ZM394.44 775.10h4.95V797.9h-4.95ZM401.05 782.05h4.95V797.9h-4.95ZM407.66 779.83h4.95V797.9h-4.95ZM414.26 790.05h4.95V797.9h-4.95ZM420.87 766.76h4.95V797.9h-4.95ZM427.48 687.74h4.95V797.9h-4.95ZM434.09 735.42h4.95V797.9h-4.95ZM440.69 765.65h4.95V797.9h-4.95ZM447.30 789.21h4.95V797.9h-4.95ZM453.91 791.16h4.95V797.9h-4.95ZM460.51 795.12h4.95V797.9h-4.95ZM467.12 791.71h4.95V797.9h-4.95ZM473.73 791.51h4.95V797.9h-4.95ZM480.34 795.33h4.95V797.9h-4.95ZM486.94 793.10h4.95V797.9h-4.95ZM493.55 796.58h4.95V797.9h-4.95ZM500.16 793.38h4.95V797.9h-4.95ZM506.76 789.63h4.95V797.9h-4.95ZM513.37 791.23h4.95V797.9h-4.95ZM519.98 773.64h4.95V797.9h-4.95ZM526.59 712.76h4.95V797.9h-4.95ZM533.19 744.45h4.95V797.9h-4.95ZM539.80 788.10h4.95V797.9h-4.95ZM546.41 793.10h4.95V797.9h-4.95ZM553.01 793.10h4.95V797.9h-4.95ZM559.62 795.33h4.95V797.9h-4.95ZM566.23 726.25h4.95V797.9h-4.95ZM572.84 664.39h4.95V797.9h-4.95ZM579.44 737.85h4.95V797.9h-4.95ZM586.05 782.75h4.95V797.9h-4.95ZM592.66 778.02h4.95V797.9h-4.95ZM599.26 781.15h4.95V797.9h-4.95ZM605.87 783.37h4.95V797.9h-4.95ZM612.48 790.25h4.95V797.9h-4.95ZM619.09 766.07h4.95V797.9h-4.95ZM625.69 782.75h4.95V797.9h-4.95ZM632.30 787.48h4.95V797.9h-4.95ZM638.91 789.98h4.95V797.9h-4.95ZM645.51 791.51h4.95V797.9h-4.95ZM652.12 791.23h4.95V797.9h-4.95ZM658.73 788.38h4.95V797.9h-4.95ZM665.34 784.28h4.95V797.9h-4.95ZM671.94 790.88h4.95V797.9h-4.95Z" fill="#000"/>
<path d="M123.5 658.9v-3.3M143.3 658.9v-3.3M163.1 658.9v-3.3M183 658.9v-3.3M202.8 658.9v-3.3M222.6 658.9v-3.3M242.4 658.9v-3.3M262.2 658.9v-3.3M282.1 658.9v-3.3M301.9 658.9v-3.3M321.7 658.9v-3.3M341.5 658.9v-3.3M361.4 658.9v-3.3M381.2 658.9v-3.3M401 658.9v-3.3M420.8 658.9v-3.3M440.6 658.9v-3.3M460.5 658.9v-3.3M480.3 658.9v-3.3M500.1 658.9v-3.3M519.9 658.9v-3.3M539.8 658.9v-3.3M559.6 658.9v-3.3M579.4 658.9v-3.3M599.2 658.9v-3.3M619 658.9v-3.3M638.9 658.9v-3.3M658.7 658.9v-3.3M678.5 658.9v-3.3" stroke="#000" stroke-width="0.8" fill="none"/>
<path d="M123.5 797.9v6.4M143.3 797.9v3.3M163.1 797.9v3.3M183 797.9v3.3M202.8 797.9v6.4M222.6 797.9v3.3M242.4 797.9v3.3M262.2 797.9v3.3M282.1 797.9v6.4M301.9 797.9v3.3M321.7 797.9v3.3M341.5 797.9v3.3M361.4 797.9v6.4M381.2 797.9v3.3M401 797.9v3.3M420.8 797.9v3.3M440.6 797.9v6.4M460.5 797.9v3.3M480.3 797.9v3.3M500.1 797.9v3.3M519.9 797.9v6.4M539.8 797.9v3.3M559.6 797.9v3.3M579.4 797.9v3.3M599.2 797.9v6.4M619 797.9v3.3M638.9 797.9v3.3M658.7 797.9v3.3M678.5 797.9v6.4" stroke="#000" stroke-width="0.8" fill="none"/>
<path d="M123.5 797.9h-6M678.5 797.9h6M123.5 763.1h-3.3M678.5 763.1h3.3M123.5 728.4h-6M678.5 728.4h6M123.5 693.6h-3.3M678.5 693.6h3.3M123.5 658.9h-6M678.5 658.9h6" stroke="#000" stroke-width="0.8" fill="none"/>
<rect x="123.5" y="658.9" width="555" height="139" fill="none" stroke="#000" stroke-width="2"/>
<text x="110.9" y="803.1" font-size="15" letter-spacing="-0.35" text-anchor="end">0</text>
<text x="110.9" y="733.6" font-size="15" letter-spacing="-0.35" text-anchor="end">1000</text>
<text x="110.9" y="664.1" font-size="15" letter-spacing="-0.35" text-anchor="end">2000</text>
<text x="0.2" y="678.4" font-size="20.4">(c)</text>
<text transform="translate(48.4 728.9) rotate(-90)" font-size="18.3" text-anchor="middle">Number of</text>
<text transform="translate(70.6 728.9) rotate(-90)" font-size="18.3" text-anchor="middle">Earthquake</text>
<text x="163" y="821" font-size="15" letter-spacing="-0.4" text-anchor="middle">2015</text>
<text x="242.3" y="821" font-size="15" letter-spacing="-0.4" text-anchor="middle">2016</text>
<text x="321.6" y="821" font-size="15" letter-spacing="-0.4" text-anchor="middle">2017</text>
<text x="400.9" y="821" font-size="15" letter-spacing="-0.4" text-anchor="middle">2018</text>
<text x="480.2" y="821" font-size="15" letter-spacing="-0.4" text-anchor="middle">2019</text>
<text x="559.5" y="821" font-size="15" letter-spacing="-0.4" text-anchor="middle">2020</text>
<text x="638.8" y="821" font-size="15" letter-spacing="-0.4" text-anchor="middle">2021</text>
<text x="401.5" y="845.8" font-size="19.7" text-anchor="middle">Date</text>
</svg></body></html>
